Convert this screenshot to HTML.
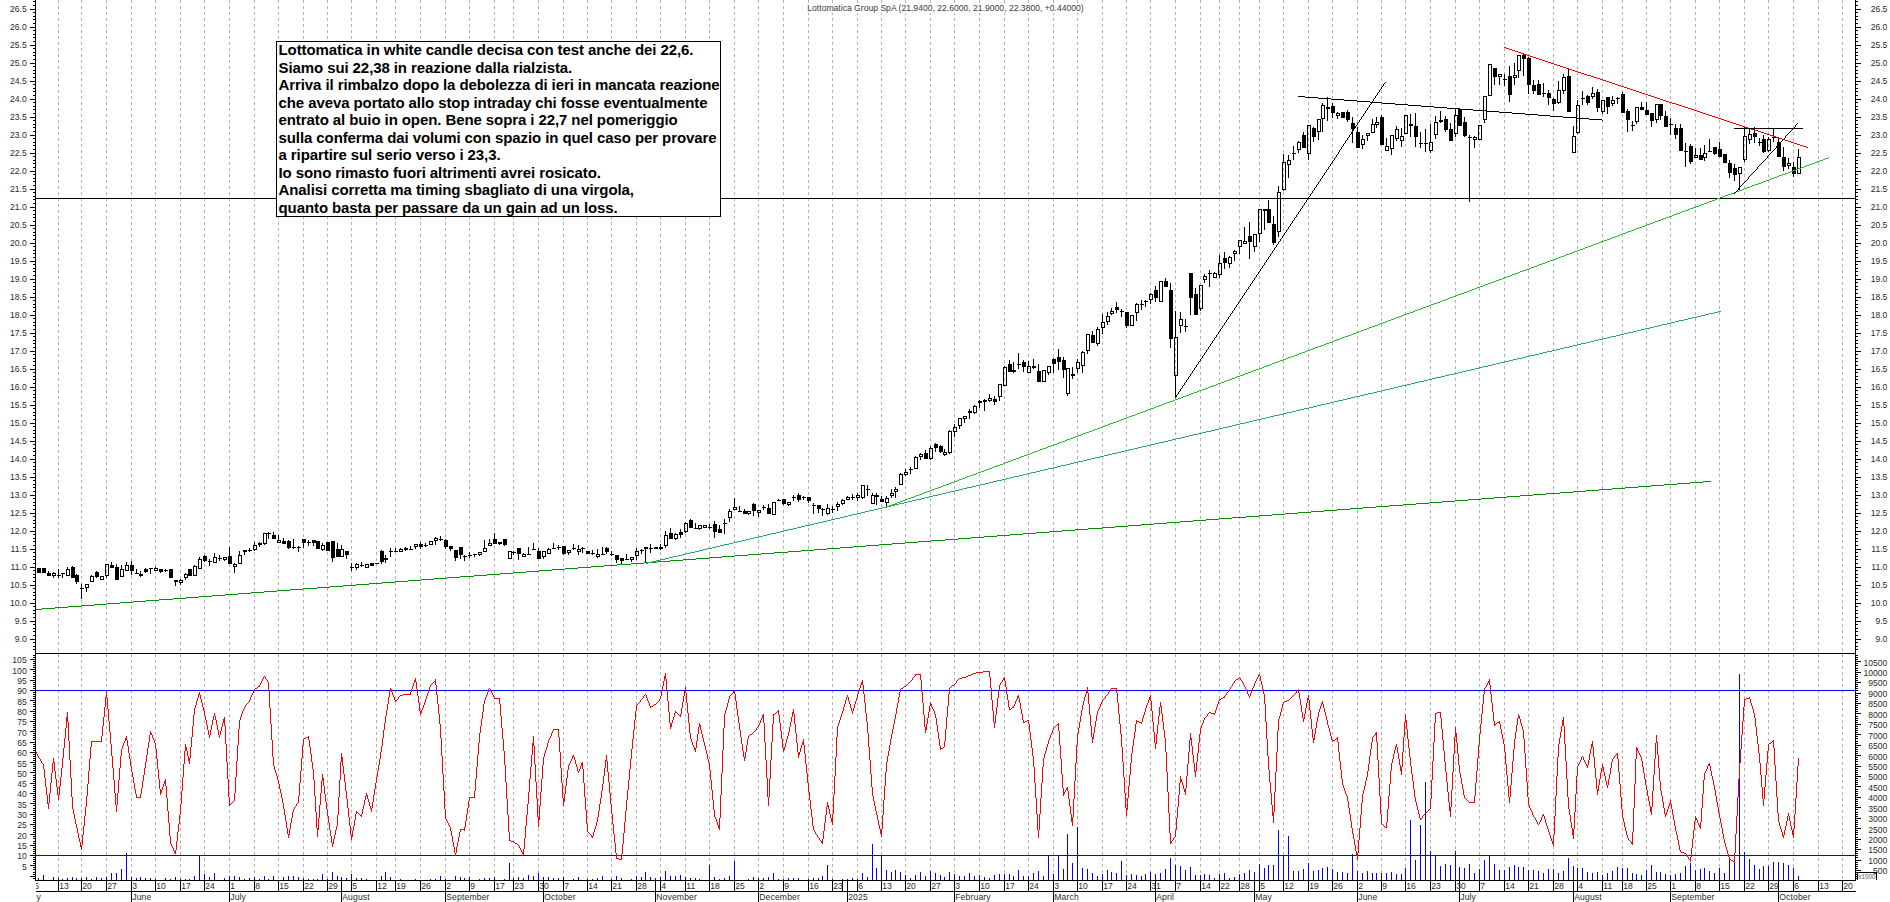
<!DOCTYPE html>
<html><head><meta charset="utf-8"><title>Lottomatica Group SpA</title>
<style>
html,body{margin:0;padding:0;background:#fff;}
body{width:1890px;height:902px;position:relative;overflow:hidden;font-family:"Liberation Sans",sans-serif;}
#note{position:absolute;left:276px;top:41px;width:443px;height:174px;border:1px solid #000;background:#fff;box-sizing:content-box;
font-family:"Liberation Sans",sans-serif;font-weight:bold;font-size:15px;letter-spacing:-0.09px;line-height:17.55px;color:#000;white-space:nowrap;overflow:hidden;}
#note div{padding-left:1.5px;height:17.55px;position:relative;top:-1px;}
</style></head><body>
<svg width="1890" height="902" viewBox="0 0 1890 902" style="position:absolute;left:0;top:0">
<rect width="1890" height="902" fill="#fff"/>
<path d="M58.5 0V880M81.5 0V880M106.5 0V880M131.5 0V880M155.5 0V880M180.5 0V880M204.5 0V880M229.5 0V880M254.5 0V880M278.5 0V880M303.5 0V880M327.5 0V880M351.5 0V880M376.5 0V880M395.5 0V880M420.5 0V880M445.5 0V880M469.5 0V880M494.5 0V880M513.5 0V880M538.5 0V880M563.5 0V880M587.5 0V880M611.5 0V880M636.5 0V880M660.5 0V880M685.5 0V880M709.5 0V880M734.5 0V880M758.5 0V880M783.5 0V880M808.5 0V880M832.5 0V880M857.5 0V880M881.5 0V880M905.5 0V880M930.5 0V880M954.5 0V880M979.5 0V880M1004.5 0V880M1028.5 0V880M1053.5 0V880M1077.5 0V880M1102.5 0V880M1126.5 0V880M1150.5 0V880M1175.5 0V880M1200.5 0V880M1219.5 0V880M1239.5 0V880M1259.5 0V880M1283.5 0V880M1308.5 0V880M1332.5 0V880M1357.5 0V880M1381.5 0V880M1405.5 0V880M1430.5 0V880M1455.5 0V880M1479.5 0V880M1504.5 0V880M1528.5 0V880M1553.5 0V880M1577.5 0V880M1602.5 0V880M1622.5 0V880M1646.5 0V880M1670.5 0V880M1695.5 0V880M1719.5 0V880M1744.5 0V880M1768.5 0V880M1793.5 0V880M1818.5 0V880M1842.5 0V880" stroke="#b2b2b2" stroke-width="1" stroke-dasharray="3 3" stroke-dashoffset="0" fill="none" shape-rendering="crispEdges"/>
<g shape-rendering="crispEdges"><path d="M38.5 568V573M43.5 568V573M48.5 571V576M53.5 572V573M53.5 576V578M58.5 569V578M62.5 573V578M67.5 567V569M72.5 566V578M76.5 574V584M81.5 584V599M86.5 588V592M91.5 575V576M96.5 571V578M106.5 576V578M111.5 562V568M116.5 564V580M121.5 565V569M126.5 562V565M131.5 561V575M136.5 569V574M140.5 571V577M145.5 568V573M150.5 568V574M155.5 567V568M160.5 569V573M165.5 569V572M170.5 569V578M175.5 580V586M180.5 579V580M180.5 583V585M185.5 573V574M185.5 578V580M189.5 569V576M194.5 565V566M199.5 557V559M204.5 555V562M209.5 559V566M214.5 553V557M219.5 555V561M224.5 560V561M229.5 547V564M234.5 563V564M234.5 567V573M239.5 551V555M244.5 550V555M249.5 548V552M254.5 542V545M254.5 550V551M259.5 542V547M264.5 544V545M268.5 532V539M273.5 532V539M278.5 535V540M283.5 538V544M288.5 540V549M293.5 539V549M298.5 546V552M303.5 539V548M308.5 540V546M313.5 540V546M317.5 541V549M322.5 543V545M322.5 550V551M327.5 542V551M332.5 541V562M337.5 543V557M341.5 545V549M346.5 551V559M351.5 563V571M356.5 563V564M356.5 568V570M361.5 562V567M371.5 563V566M376.5 563V564M381.5 550V564M385.5 555V563M390.5 548V557M395.5 548V552M400.5 548V549M405.5 547V551M410.5 546V550M415.5 547V549M420.5 542V549M425.5 543V547M435.5 537V538M435.5 541V545M440.5 536V541M445.5 539V549M450.5 546V551M455.5 550V561M460.5 547V559M464.5 555V561M469.5 552V558M474.5 554V557M479.5 555V556M484.5 540V548M489.5 539V543M494.5 533V544M499.5 542V545M504.5 539V546M513.5 551V555M518.5 548V560M523.5 553V554M528.5 547V554M533.5 543V550M538.5 548V559M543.5 557V559M548.5 548V549M553.5 543V549M558.5 545V550M563.5 546V555M568.5 553V555M573.5 544V550M578.5 545V549M578.5 552V555M582.5 547V553M587.5 551V554M592.5 550V555M597.5 549V554M597.5 557V558M602.5 547V555M606.5 547V554M611.5 551V556M616.5 555V563M621.5 558V564M626.5 554V560M631.5 560V562M636.5 548V551M636.5 556V560M641.5 549V554M645.5 547V563M650.5 544V553M655.5 547V549M660.5 544V550M665.5 531V535M665.5 546V548M670.5 528V539M675.5 533V534M675.5 539V540M680.5 529V538M685.5 522V523M685.5 532V533M690.5 519V528M695.5 523V529M699.5 529V530M709.5 524V529M714.5 521V538M719.5 525V533M724.5 519V534M729.5 509V511M729.5 518V522M734.5 498V507M739.5 506V512M744.5 509V514M748.5 514V515M753.5 503V516M758.5 513V517M763.5 505V510M768.5 504V514M778.5 499V501M783.5 499V505M788.5 505V506M793.5 495V501M798.5 493V502M803.5 496V500M808.5 497V503M813.5 503V514M818.5 505V513M822.5 508V516M827.5 504V508M827.5 514V515M832.5 506V513M837.5 502V504M837.5 507V511M842.5 499V500M842.5 504V505M847.5 496V497M852.5 494V500M857.5 493V495M857.5 498V501M862.5 498V499M867.5 485V496M872.5 493V495M876.5 493V505M881.5 496V502M886.5 496V498M886.5 503V506M891.5 489V493M891.5 496V498M895.5 487V489M895.5 492V498M900.5 473V474M905.5 469V472M905.5 475V476M910.5 467V474M915.5 456V457M920.5 453V454M920.5 457V460M925.5 450V459M930.5 446V448M930.5 459V460M935.5 443V452M940.5 445V453M944.5 449V452M944.5 455V456M949.5 430V431M949.5 453V454M954.5 424V427M954.5 432V437M959.5 426V429M964.5 419V423M969.5 409V419M974.5 405V406M974.5 413V414M979.5 400V408M984.5 399V411M989.5 394V398M989.5 401V402M994.5 396V405M999.5 397V401M1004.5 366V367M1009.5 360V372M1013.5 362V373M1018.5 353V369M1023.5 360V372M1028.5 361V366M1033.5 359V369M1038.5 364V382M1048.5 373V375M1053.5 358V373M1058.5 349V370M1063.5 357V378M1067.5 394V396M1072.5 367V379M1077.5 359V362M1077.5 369V373M1082.5 351V352M1082.5 366V373M1087.5 351V354M1092.5 331V343M1097.5 327V329M1097.5 344V346M1102.5 314V322M1102.5 328V334M1107.5 312V316M1107.5 322V325M1111.5 308V311M1111.5 314V315M1116.5 302V313M1121.5 309V317M1126.5 312V328M1136.5 303V304M1136.5 313V321M1141.5 300V310M1145.5 300V307M1150.5 293V294M1150.5 300V304M1155.5 286V302M1165.5 278V287M1170.5 283V348M1175.5 311V337M1175.5 376V398M1180.5 312V319M1180.5 326V333M1185.5 319V332M1190.5 273V315M1195.5 288V315M1200.5 309V311M1204.5 274V276M1204.5 280V283M1209.5 270V287M1214.5 272V273M1219.5 255V263M1219.5 275V278M1224.5 252V269M1229.5 256V257M1229.5 264V268M1234.5 250V251M1234.5 254V261M1239.5 247V254M1244.5 227V241M1249.5 222V259M1254.5 247V252M1259.5 234V242M1264.5 209V230M1268.5 200V223M1273.5 216V245M1278.5 186V192M1278.5 232V237M1283.5 154V162M1283.5 190V191M1288.5 155V160M1288.5 165V178M1293.5 146V160M1298.5 141V142M1298.5 150V153M1303.5 132V148M1308.5 154V160M1313.5 127V142M1318.5 132V140M1322.5 103V105M1322.5 119V132M1327.5 97V121M1332.5 103V118M1337.5 112V113M1337.5 116V119M1342.5 112V118M1347.5 110V122M1352.5 117V143M1357.5 127V148M1362.5 135V139M1362.5 145V149M1367.5 136V141M1372.5 119V124M1376.5 117V122M1376.5 125V128M1381.5 115V145M1386.5 138V146M1391.5 149V155M1396.5 126V129M1396.5 139V141M1401.5 128V136M1401.5 141V147M1410.5 114V137M1415.5 113V147M1420.5 132V148M1425.5 129V152M1430.5 124V142M1430.5 151V153M1435.5 116V122M1435.5 135V139M1440.5 111V123M1445.5 116V132M1450.5 123V141M1455.5 109V115M1455.5 134V137M1459.5 109V126M1464.5 117V137M1469.5 135V202M1474.5 136V137M1474.5 140V148M1484.5 120V123M1494.5 68V85M1499.5 77V85M1504.5 74V86M1509.5 66V102M1514.5 63V75M1514.5 78V85M1518.5 71V78M1523.5 54V76M1528.5 57V94M1533.5 80V94M1538.5 80V95M1543.5 83V97M1548.5 90V105M1553.5 98V111M1558.5 81V90M1558.5 103V104M1563.5 74V77M1563.5 91V94M1568.5 69V112M1573.5 126V136M1577.5 100V105M1577.5 133V134M1582.5 91V105M1587.5 95V105M1592.5 87V93M1592.5 97V99M1597.5 89V112M1602.5 112V114M1607.5 97V114M1612.5 96V100M1612.5 104V106M1617.5 97V104M1622.5 92V113M1627.5 109V132M1632.5 121V131M1636.5 122V124M1641.5 102V110M1646.5 102V115M1651.5 113V127M1656.5 120V123M1660.5 104V120M1665.5 111V127M1670.5 118V135M1675.5 124V139M1680.5 124V151M1685.5 143V167M1690.5 144V164M1695.5 148V155M1700.5 148V160M1704.5 145V153M1704.5 158V161M1709.5 139V152M1714.5 147V155M1719.5 142V157M1724.5 154V163M1729.5 160V178M1734.5 164V181M1739.5 174V190M1744.5 127V136M1744.5 160V162M1749.5 129V134M1749.5 140V144M1754.5 127V143M1759.5 138V146M1763.5 135V153M1768.5 137V139M1768.5 151V152M1773.5 129V142M1778.5 137V157M1783.5 147V171M1788.5 158V163M1788.5 166V169M1793.5 162V177M1798.5 149V157" stroke="#000" stroke-width="1" fill="none"/><path d="M37 568h4v5h-4zM42 568h4v5h-4zM47 573h4v3h-4zM57 575h4v1h-4zM61 573h4v1h-4zM71 567h4v11h-4zM75 575h4v7h-4zM80 588h4v1h-4zM95 572h4v5h-4zM110 565h4v3h-4zM115 567h4v13h-4zM130 565h4v6h-4zM135 573h4v1h-4zM139 574h4v2h-4zM144 569h4v3h-4zM149 568h4v1h-4zM159 569h4v3h-4zM164 570h4v1h-4zM169 569h4v9h-4zM174 580h4v2h-4zM188 569h4v7h-4zM203 556h4v5h-4zM208 561h4v1h-4zM218 558h4v1h-4zM228 556h4v8h-4zM243 550h4v2h-4zM248 550h4v1h-4zM258 543h4v2h-4zM267 533h4v1h-4zM272 535h4v4h-4zM282 541h4v3h-4zM287 541h4v7h-4zM292 547h4v1h-4zM297 547h4v1h-4zM302 539h4v4h-4zM307 542h4v1h-4zM312 540h4v3h-4zM316 541h4v8h-4zM326 542h4v9h-4zM331 541h4v17h-4zM336 549h4v8h-4zM345 551h4v4h-4zM350 567h4v1h-4zM360 565h4v1h-4zM370 563h4v3h-4zM375 563h4v1h-4zM380 551h4v11h-4zM384 558h4v2h-4zM389 551h4v1h-4zM394 551h4v1h-4zM404 548h4v2h-4zM409 549h4v1h-4zM419 544h4v3h-4zM424 545h4v1h-4zM439 539h4v1h-4zM444 540h4v7h-4zM449 546h4v3h-4zM454 550h4v8h-4zM459 547h4v8h-4zM463 556h4v1h-4zM468 555h4v1h-4zM473 554h4v1h-4zM493 539h4v5h-4zM498 542h4v2h-4zM503 539h4v6h-4zM512 552h4v1h-4zM517 548h4v6h-4zM527 554h4v1h-4zM532 549h4v1h-4zM537 551h4v8h-4zM552 548h4v1h-4zM557 547h4v1h-4zM562 546h4v8h-4zM572 548h4v1h-4zM581 548h4v1h-4zM586 551h4v3h-4zM591 553h4v1h-4zM601 554h4v1h-4zM605 548h4v4h-4zM610 554h4v1h-4zM615 555h4v5h-4zM620 558h4v3h-4zM625 559h4v1h-4zM640 550h4v1h-4zM644 547h4v2h-4zM649 548h4v1h-4zM654 547h4v2h-4zM659 547h4v2h-4zM669 533h4v6h-4zM679 532h4v3h-4zM689 520h4v8h-4zM694 528h4v1h-4zM708 527h4v1h-4zM713 524h4v8h-4zM718 529h4v4h-4zM723 523h4v1h-4zM738 511h4v1h-4zM743 511h4v3h-4zM752 504h4v7h-4zM762 507h4v1h-4zM767 508h4v6h-4zM777 500h4v1h-4zM782 499h4v5h-4zM792 497h4v1h-4zM797 495h4v5h-4zM802 497h4v1h-4zM807 497h4v4h-4zM812 505h4v1h-4zM817 505h4v4h-4zM821 509h4v1h-4zM831 509h4v1h-4zM851 497h4v1h-4zM866 489h4v1h-4zM875 495h4v2h-4zM880 499h4v3h-4zM909 469h4v1h-4zM924 453h4v6h-4zM934 444h4v4h-4zM939 446h4v6h-4zM968 411h4v2h-4zM978 401h4v2h-4zM983 400h4v2h-4zM993 399h4v3h-4zM1008 364h4v8h-4zM1012 370h4v2h-4zM1017 364h4v1h-4zM1022 362h4v5h-4zM1032 366h4v2h-4zM1037 371h4v11h-4zM1052 359h4v5h-4zM1057 357h4v5h-4zM1062 360h4v10h-4zM1071 374h4v2h-4zM1091 335h4v8h-4zM1115 307h4v3h-4zM1120 311h4v1h-4zM1125 312h4v14h-4zM1140 304h4v1h-4zM1144 301h4v1h-4zM1154 290h4v8h-4zM1164 281h4v6h-4zM1169 290h4v49h-4zM1184 326h4v1h-4zM1189 273h4v25h-4zM1194 294h4v21h-4zM1208 273h4v1h-4zM1223 258h4v5h-4zM1248 236h4v6h-4zM1263 209h4v2h-4zM1267 209h4v14h-4zM1272 224h4v19h-4zM1292 153h4v1h-4zM1302 135h4v13h-4zM1312 128h4v9h-4zM1326 107h4v2h-4zM1331 106h4v7h-4zM1341 112h4v6h-4zM1346 112h4v8h-4zM1351 123h4v6h-4zM1356 132h4v16h-4zM1380 117h4v28h-4zM1409 124h4v2h-4zM1414 126h4v11h-4zM1419 143h4v1h-4zM1424 143h4v1h-4zM1439 120h4v2h-4zM1444 119h4v11h-4zM1449 129h4v12h-4zM1458 109h4v17h-4zM1463 122h4v14h-4zM1468 137h4v1h-4zM1493 68h4v9h-4zM1503 79h4v1h-4zM1508 76h4v19h-4zM1522 55h4v4h-4zM1527 58h4v27h-4zM1532 85h4v6h-4zM1537 84h4v11h-4zM1542 93h4v1h-4zM1547 93h4v5h-4zM1552 99h4v5h-4zM1567 76h4v36h-4zM1581 98h4v1h-4zM1586 96h4v7h-4zM1596 92h4v16h-4zM1606 97h4v10h-4zM1616 98h4v1h-4zM1621 94h4v19h-4zM1626 111h4v9h-4zM1631 125h4v1h-4zM1640 107h4v3h-4zM1645 110h4v5h-4zM1650 113h4v8h-4zM1659 104h4v12h-4zM1664 116h4v11h-4zM1669 124h4v1h-4zM1674 128h4v7h-4zM1679 128h4v23h-4zM1684 151h4v1h-4zM1689 146h4v16h-4zM1699 155h4v5h-4zM1708 151h4v1h-4zM1713 147h4v7h-4zM1718 149h4v8h-4zM1723 154h4v9h-4zM1728 163h4v10h-4zM1733 168h4v7h-4zM1753 133h4v4h-4zM1758 142h4v1h-4zM1762 139h4v13h-4zM1772 137h4v1h-4zM1777 142h4v15h-4zM1782 157h4v10h-4zM1792 167h4v7h-4z" fill="#000" stroke="none"/><path d="M52.5 573.5h3v2h-3zM66.5 569.5h3v6h-3zM85.5 584.5h3v3h-3zM90.5 576.5h3v5h-3zM100.5 576.5h3v3h-3zM105.5 564.5h3v11h-3zM120.5 569.5h3v7h-3zM125.5 565.5h3v5h-3zM154.5 568.5h3v2h-3zM179.5 580.5h3v2h-3zM184.5 574.5h3v3h-3zM193.5 566.5h3v9h-3zM198.5 559.5h3v9h-3zM213.5 557.5h3v5h-3zM223.5 557.5h3v2h-3zM233.5 564.5h3v2h-3zM238.5 555.5h3v8h-3zM253.5 545.5h3v4h-3zM263.5 533.5h3v10h-3zM277.5 540.5h3v2h-3zM321.5 545.5h3v4h-3zM340.5 549.5h3v7h-3zM355.5 564.5h3v3h-3zM365.5 564.5h3v3h-3zM399.5 549.5h3v2h-3zM414.5 544.5h3v2h-3zM429.5 541.5h3v3h-3zM434.5 538.5h3v2h-3zM478.5 552.5h3v2h-3zM483.5 548.5h3v3h-3zM488.5 543.5h3v2h-3zM508.5 551.5h3v7h-3zM522.5 554.5h3v2h-3zM542.5 551.5h3v5h-3zM547.5 549.5h3v4h-3zM567.5 550.5h3v2h-3zM577.5 549.5h3v2h-3zM596.5 554.5h3v2h-3zM630.5 557.5h3v2h-3zM635.5 551.5h3v4h-3zM664.5 535.5h3v10h-3zM674.5 534.5h3v4h-3zM684.5 523.5h3v8h-3zM698.5 525.5h3v3h-3zM703.5 525.5h3v2h-3zM728.5 511.5h3v6h-3zM733.5 507.5h3v2h-3zM747.5 511.5h3v2h-3zM757.5 510.5h3v2h-3zM772.5 502.5h3v12h-3zM787.5 502.5h3v2h-3zM826.5 508.5h3v5h-3zM836.5 504.5h3v2h-3zM841.5 500.5h3v3h-3zM846.5 497.5h3v2h-3zM856.5 495.5h3v2h-3zM861.5 485.5h3v12h-3zM871.5 495.5h3v8h-3zM885.5 498.5h3v4h-3zM890.5 493.5h3v2h-3zM894.5 489.5h3v2h-3zM899.5 474.5h3v10h-3zM904.5 472.5h3v2h-3zM914.5 457.5h3v11h-3zM919.5 454.5h3v2h-3zM929.5 448.5h3v10h-3zM943.5 452.5h3v2h-3zM948.5 431.5h3v21h-3zM953.5 427.5h3v4h-3zM958.5 418.5h3v7h-3zM963.5 416.5h3v2h-3zM973.5 406.5h3v6h-3zM988.5 398.5h3v2h-3zM998.5 384.5h3v12h-3zM1003.5 367.5h3v18h-3zM1027.5 366.5h3v6h-3zM1042.5 370.5h3v11h-3zM1047.5 366.5h3v6h-3zM1066.5 368.5h3v25h-3zM1076.5 362.5h3v6h-3zM1081.5 352.5h3v13h-3zM1086.5 334.5h3v16h-3zM1096.5 329.5h3v14h-3zM1101.5 322.5h3v5h-3zM1106.5 316.5h3v5h-3zM1110.5 311.5h3v2h-3zM1130.5 315.5h3v10h-3zM1135.5 304.5h3v8h-3zM1149.5 294.5h3v5h-3zM1159.5 281.5h3v20h-3zM1174.5 337.5h3v38h-3zM1179.5 319.5h3v6h-3zM1199.5 285.5h3v23h-3zM1203.5 276.5h3v3h-3zM1213.5 273.5h3v4h-3zM1218.5 263.5h3v11h-3zM1228.5 257.5h3v6h-3zM1233.5 251.5h3v2h-3zM1238.5 240.5h3v6h-3zM1243.5 241.5h3v2h-3zM1253.5 234.5h3v12h-3zM1258.5 209.5h3v24h-3zM1277.5 192.5h3v39h-3zM1282.5 162.5h3v27h-3zM1287.5 160.5h3v4h-3zM1297.5 142.5h3v7h-3zM1307.5 125.5h3v28h-3zM1317.5 119.5h3v12h-3zM1321.5 105.5h3v13h-3zM1336.5 113.5h3v2h-3zM1361.5 139.5h3v5h-3zM1366.5 133.5h3v2h-3zM1371.5 124.5h3v8h-3zM1375.5 122.5h3v2h-3zM1385.5 146.5h3v4h-3zM1390.5 135.5h3v13h-3zM1395.5 129.5h3v9h-3zM1400.5 136.5h3v4h-3zM1404.5 115.5h3v18h-3zM1429.5 142.5h3v8h-3zM1434.5 122.5h3v12h-3zM1454.5 115.5h3v18h-3zM1473.5 137.5h3v2h-3zM1478.5 125.5h3v14h-3zM1483.5 96.5h3v23h-3zM1488.5 64.5h3v31h-3zM1498.5 74.5h3v2h-3zM1513.5 75.5h3v2h-3zM1517.5 55.5h3v15h-3zM1557.5 90.5h3v12h-3zM1562.5 77.5h3v13h-3zM1572.5 136.5h3v16h-3zM1576.5 105.5h3v27h-3zM1591.5 93.5h3v3h-3zM1601.5 100.5h3v11h-3zM1611.5 100.5h3v3h-3zM1635.5 107.5h3v14h-3zM1655.5 104.5h3v15h-3zM1694.5 155.5h3v2h-3zM1703.5 153.5h3v4h-3zM1738.5 167.5h3v6h-3zM1743.5 136.5h3v23h-3zM1748.5 134.5h3v5h-3zM1767.5 139.5h3v11h-3zM1787.5 163.5h3v2h-3zM1797.5 157.5h3v16h-3z" fill="none" stroke="#000" stroke-width="1"/></g>
<g shape-rendering="crispEdges" stroke="none"><path d="M35 198h1821v1h-1821z" fill="#000"/><path d="M36 609h6v1h-6zM42 608h13v1h-13zM55 607h13v1h-13zM68 606h13v1h-13zM81 605h13v1h-13zM94 604h13v1h-13zM107 603h13v1h-13zM120 602h13v1h-13zM133 601h13v1h-13zM146 600h13v1h-13zM159 599h14v1h-14zM173 598h13v1h-13zM186 597h13v1h-13zM199 596h13v1h-13zM212 595h13v1h-13zM225 594h13v1h-13zM238 593h13v1h-13zM251 592h13v1h-13zM264 591h13v1h-13zM277 590h13v1h-13zM290 589h13v1h-13zM303 588h14v1h-14zM317 587h13v1h-13zM330 586h13v1h-13zM343 585h13v1h-13zM356 584h13v1h-13zM369 583h13v1h-13zM382 582h13v1h-13zM395 581h13v1h-13zM408 580h13v1h-13zM421 579h13v1h-13zM434 578h13v1h-13zM447 577h13v1h-13zM460 576h14v1h-14zM474 575h13v1h-13zM487 574h13v1h-13zM500 573h13v1h-13zM513 572h13v1h-13zM526 571h13v1h-13zM539 570h13v1h-13zM552 569h13v1h-13zM565 568h13v1h-13zM578 567h13v1h-13zM591 566h13v1h-13zM604 565h13v1h-13zM617 564h14v1h-14zM631 563h13v1h-13zM644 562h13v1h-13zM657 561h13v1h-13zM670 560h13v1h-13zM683 559h13v1h-13zM696 558h13v1h-13zM709 557h13v1h-13zM722 556h13v1h-13zM735 555h13v1h-13zM748 554h13v1h-13zM761 553h13v1h-13zM774 552h14v1h-14zM788 551h13v1h-13zM801 550h13v1h-13zM814 549h13v1h-13zM827 548h13v1h-13zM840 547h13v1h-13zM853 546h13v1h-13zM866 545h13v1h-13zM879 544h13v1h-13zM892 543h13v1h-13zM905 542h13v1h-13zM918 541h13v1h-13zM931 540h14v1h-14zM945 539h13v1h-13zM958 538h13v1h-13zM971 537h13v1h-13zM984 536h13v1h-13zM997 535h13v1h-13zM1010 534h13v1h-13zM1023 533h13v1h-13zM1036 532h13v1h-13zM1049 531h13v1h-13zM1062 530h13v1h-13zM1075 529h13v1h-13zM1088 528h14v1h-14zM1102 527h13v1h-13zM1115 526h13v1h-13zM1128 525h13v1h-13zM1141 524h13v1h-13zM1154 523h13v1h-13zM1167 522h13v1h-13zM1180 521h13v1h-13zM1193 520h13v1h-13zM1206 519h13v1h-13zM1219 518h13v1h-13zM1232 517h14v1h-14zM1246 516h13v1h-13zM1259 515h13v1h-13zM1272 514h13v1h-13zM1285 513h13v1h-13zM1298 512h13v1h-13zM1311 511h13v1h-13zM1324 510h13v1h-13zM1337 509h13v1h-13zM1350 508h13v1h-13zM1363 507h13v1h-13zM1376 506h13v1h-13zM1389 505h14v1h-14zM1403 504h13v1h-13zM1416 503h13v1h-13zM1429 502h13v1h-13zM1442 501h13v1h-13zM1455 500h13v1h-13zM1468 499h13v1h-13zM1481 498h13v1h-13zM1494 497h13v1h-13zM1507 496h13v1h-13zM1520 495h13v1h-13zM1533 494h13v1h-13zM1546 493h14v1h-14zM1560 492h13v1h-13zM1573 491h13v1h-13zM1586 490h13v1h-13zM1599 489h13v1h-13zM1612 488h13v1h-13zM1625 487h13v1h-13zM1638 486h13v1h-13zM1651 485h13v1h-13zM1664 484h13v1h-13zM1677 483h13v1h-13zM1690 482h13v1h-13zM1703 481h8v1h-8z" fill="#009000"/><path d="M646 563h2v1h-2zM648 562h4v1h-4zM652 561h4v1h-4zM656 560h4v1h-4zM660 559h5v1h-5zM665 558h4v1h-4zM669 557h4v1h-4zM673 556h5v1h-5zM678 555h4v1h-4zM682 554h4v1h-4zM686 553h4v1h-4zM690 552h5v1h-5zM695 551h4v1h-4zM699 550h4v1h-4zM703 549h4v1h-4zM707 548h5v1h-5zM712 547h4v1h-4zM716 546h4v1h-4zM720 545h4v1h-4zM724 544h5v1h-5zM729 543h4v1h-4zM733 542h4v1h-4zM737 541h5v1h-5zM742 540h4v1h-4zM746 539h4v1h-4zM750 538h4v1h-4zM754 537h5v1h-5zM759 536h4v1h-4zM763 535h4v1h-4zM767 534h4v1h-4zM771 533h5v1h-5zM776 532h4v1h-4zM780 531h4v1h-4zM784 530h4v1h-4zM788 529h5v1h-5zM793 528h4v1h-4zM797 527h4v1h-4zM801 526h4v1h-4zM805 525h5v1h-5zM810 524h4v1h-4zM814 523h4v1h-4zM818 522h5v1h-5zM823 521h4v1h-4zM827 520h4v1h-4zM831 519h4v1h-4zM835 518h5v1h-5zM840 517h4v1h-4zM844 516h4v1h-4zM848 515h4v1h-4zM852 514h5v1h-5zM857 513h4v1h-4zM861 512h4v1h-4zM865 511h4v1h-4zM869 510h5v1h-5zM874 509h4v1h-4zM878 508h4v1h-4zM882 507h4v1h-4zM886 506h5v1h-5zM891 505h4v1h-4zM895 504h4v1h-4zM899 503h5v1h-5zM904 502h4v1h-4zM908 501h4v1h-4zM912 500h4v1h-4zM916 499h5v1h-5zM921 498h4v1h-4zM925 497h4v1h-4zM929 496h4v1h-4zM933 495h5v1h-5zM938 494h4v1h-4zM942 493h4v1h-4zM946 492h4v1h-4zM950 491h5v1h-5zM955 490h4v1h-4zM959 489h4v1h-4zM963 488h4v1h-4zM967 487h5v1h-5zM972 486h4v1h-4zM976 485h4v1h-4zM980 484h5v1h-5zM985 483h4v1h-4zM989 482h4v1h-4zM993 481h4v1h-4zM997 480h5v1h-5zM1002 479h4v1h-4zM1006 478h4v1h-4zM1010 477h4v1h-4zM1014 476h5v1h-5zM1019 475h4v1h-4zM1023 474h4v1h-4zM1027 473h4v1h-4zM1031 472h5v1h-5zM1036 471h4v1h-4zM1040 470h4v1h-4zM1044 469h4v1h-4zM1048 468h5v1h-5zM1053 467h4v1h-4zM1057 466h4v1h-4zM1061 465h5v1h-5zM1066 464h4v1h-4zM1070 463h4v1h-4zM1074 462h4v1h-4zM1078 461h5v1h-5zM1083 460h4v1h-4zM1087 459h4v1h-4zM1091 458h4v1h-4zM1095 457h5v1h-5zM1100 456h4v1h-4zM1104 455h4v1h-4zM1108 454h4v1h-4zM1112 453h5v1h-5zM1117 452h4v1h-4zM1121 451h4v1h-4zM1125 450h4v1h-4zM1129 449h5v1h-5zM1134 448h4v1h-4zM1138 447h4v1h-4zM1142 446h5v1h-5zM1147 445h4v1h-4zM1151 444h4v1h-4zM1155 443h4v1h-4zM1159 442h5v1h-5zM1164 441h4v1h-4zM1168 440h4v1h-4zM1172 439h4v1h-4zM1176 438h5v1h-5zM1181 437h4v1h-4zM1185 436h4v1h-4zM1189 435h4v1h-4zM1193 434h5v1h-5zM1198 433h4v1h-4zM1202 432h4v1h-4zM1206 431h5v1h-5zM1211 430h4v1h-4zM1215 429h4v1h-4zM1219 428h4v1h-4zM1223 427h5v1h-5zM1228 426h4v1h-4zM1232 425h4v1h-4zM1236 424h4v1h-4zM1240 423h5v1h-5zM1245 422h4v1h-4zM1249 421h4v1h-4zM1253 420h4v1h-4zM1257 419h5v1h-5zM1262 418h4v1h-4zM1266 417h4v1h-4zM1270 416h4v1h-4zM1274 415h5v1h-5zM1279 414h4v1h-4zM1283 413h4v1h-4zM1287 412h5v1h-5zM1292 411h4v1h-4zM1296 410h4v1h-4zM1300 409h4v1h-4zM1304 408h5v1h-5zM1309 407h4v1h-4zM1313 406h4v1h-4zM1317 405h4v1h-4zM1321 404h5v1h-5zM1326 403h4v1h-4zM1330 402h4v1h-4zM1334 401h4v1h-4zM1338 400h5v1h-5zM1343 399h4v1h-4zM1347 398h4v1h-4zM1351 397h4v1h-4zM1355 396h5v1h-5zM1360 395h4v1h-4zM1364 394h4v1h-4zM1368 393h5v1h-5zM1373 392h4v1h-4zM1377 391h4v1h-4zM1381 390h4v1h-4zM1385 389h5v1h-5zM1390 388h4v1h-4zM1394 387h4v1h-4zM1398 386h4v1h-4zM1402 385h5v1h-5zM1407 384h4v1h-4zM1411 383h4v1h-4zM1415 382h4v1h-4zM1419 381h5v1h-5zM1424 380h4v1h-4zM1428 379h4v1h-4zM1432 378h4v1h-4zM1436 377h5v1h-5zM1441 376h4v1h-4zM1445 375h4v1h-4zM1449 374h5v1h-5zM1454 373h4v1h-4zM1458 372h4v1h-4zM1462 371h4v1h-4zM1466 370h5v1h-5zM1471 369h4v1h-4zM1475 368h4v1h-4zM1479 367h4v1h-4zM1483 366h5v1h-5zM1488 365h4v1h-4zM1492 364h4v1h-4zM1496 363h4v1h-4zM1500 362h5v1h-5zM1505 361h4v1h-4zM1509 360h4v1h-4zM1513 359h4v1h-4zM1517 358h5v1h-5zM1522 357h4v1h-4zM1526 356h4v1h-4zM1530 355h5v1h-5zM1535 354h4v1h-4zM1539 353h4v1h-4zM1543 352h4v1h-4zM1547 351h5v1h-5zM1552 350h4v1h-4zM1556 349h4v1h-4zM1560 348h4v1h-4zM1564 347h5v1h-5zM1569 346h4v1h-4zM1573 345h4v1h-4zM1577 344h4v1h-4zM1581 343h5v1h-5zM1586 342h4v1h-4zM1590 341h4v1h-4zM1594 340h4v1h-4zM1598 339h5v1h-5zM1603 338h4v1h-4zM1607 337h4v1h-4zM1611 336h5v1h-5zM1616 335h4v1h-4zM1620 334h4v1h-4zM1624 333h4v1h-4zM1628 332h5v1h-5zM1633 331h4v1h-4zM1637 330h4v1h-4zM1641 329h4v1h-4zM1645 328h5v1h-5zM1650 327h4v1h-4zM1654 326h4v1h-4zM1658 325h4v1h-4zM1662 324h5v1h-5zM1667 323h4v1h-4zM1671 322h4v1h-4zM1675 321h4v1h-4zM1679 320h5v1h-5zM1684 319h4v1h-4zM1688 318h4v1h-4zM1692 317h5v1h-5zM1697 316h4v1h-4zM1701 315h4v1h-4zM1705 314h4v1h-4zM1709 313h5v1h-5zM1714 312h4v1h-4zM1718 311h3v1h-3z" fill="#2aa86a"/><path d="M886 507h1v1h-1zM887 506h2v1h-2zM889 505h3v1h-3zM892 504h3v1h-3zM895 503h2v1h-2zM897 502h3v1h-3zM900 501h3v1h-3zM903 500h2v1h-2zM905 499h3v1h-3zM908 498h3v1h-3zM911 497h3v1h-3zM914 496h2v1h-2zM916 495h3v1h-3zM919 494h3v1h-3zM922 493h2v1h-2zM924 492h3v1h-3zM927 491h3v1h-3zM930 490h2v1h-2zM932 489h3v1h-3zM935 488h3v1h-3zM938 487h3v1h-3zM941 486h2v1h-2zM943 485h3v1h-3zM946 484h3v1h-3zM949 483h2v1h-2zM951 482h3v1h-3zM954 481h3v1h-3zM957 480h2v1h-2zM959 479h3v1h-3zM962 478h3v1h-3zM965 477h2v1h-2zM967 476h3v1h-3zM970 475h3v1h-3zM973 474h3v1h-3zM976 473h2v1h-2zM978 472h3v1h-3zM981 471h3v1h-3zM984 470h2v1h-2zM986 469h3v1h-3zM989 468h3v1h-3zM992 467h2v1h-2zM994 466h3v1h-3zM997 465h3v1h-3zM1000 464h3v1h-3zM1003 463h2v1h-2zM1005 462h3v1h-3zM1008 461h3v1h-3zM1011 460h2v1h-2zM1013 459h3v1h-3zM1016 458h3v1h-3zM1019 457h2v1h-2zM1021 456h3v1h-3zM1024 455h3v1h-3zM1027 454h3v1h-3zM1030 453h2v1h-2zM1032 452h3v1h-3zM1035 451h3v1h-3zM1038 450h2v1h-2zM1040 449h3v1h-3zM1043 448h3v1h-3zM1046 447h2v1h-2zM1048 446h3v1h-3zM1051 445h3v1h-3zM1054 444h3v1h-3zM1057 443h2v1h-2zM1059 442h3v1h-3zM1062 441h3v1h-3zM1065 440h2v1h-2zM1067 439h3v1h-3zM1070 438h3v1h-3zM1073 437h2v1h-2zM1075 436h3v1h-3zM1078 435h3v1h-3zM1081 434h2v1h-2zM1083 433h3v1h-3zM1086 432h3v1h-3zM1089 431h3v1h-3zM1092 430h2v1h-2zM1094 429h3v1h-3zM1097 428h3v1h-3zM1100 427h2v1h-2zM1102 426h3v1h-3zM1105 425h3v1h-3zM1108 424h2v1h-2zM1110 423h3v1h-3zM1113 422h3v1h-3zM1116 421h3v1h-3zM1119 420h2v1h-2zM1121 419h3v1h-3zM1124 418h3v1h-3zM1127 417h2v1h-2zM1129 416h3v1h-3zM1132 415h3v1h-3zM1135 414h2v1h-2zM1137 413h3v1h-3zM1140 412h3v1h-3zM1143 411h3v1h-3zM1146 410h2v1h-2zM1148 409h3v1h-3zM1151 408h3v1h-3zM1154 407h2v1h-2zM1156 406h3v1h-3zM1159 405h3v1h-3zM1162 404h2v1h-2zM1164 403h3v1h-3zM1167 402h3v1h-3zM1170 401h3v1h-3zM1173 400h2v1h-2zM1175 399h3v1h-3zM1178 398h3v1h-3zM1181 397h2v1h-2zM1183 396h3v1h-3zM1186 395h3v1h-3zM1189 394h2v1h-2zM1191 393h3v1h-3zM1194 392h3v1h-3zM1197 391h2v1h-2zM1199 390h3v1h-3zM1202 389h3v1h-3zM1205 388h3v1h-3zM1208 387h2v1h-2zM1210 386h3v1h-3zM1213 385h3v1h-3zM1216 384h2v1h-2zM1218 383h3v1h-3zM1221 382h3v1h-3zM1224 381h2v1h-2zM1226 380h3v1h-3zM1229 379h3v1h-3zM1232 378h3v1h-3zM1235 377h2v1h-2zM1237 376h3v1h-3zM1240 375h3v1h-3zM1243 374h2v1h-2zM1245 373h3v1h-3zM1248 372h3v1h-3zM1251 371h2v1h-2zM1253 370h3v1h-3zM1256 369h3v1h-3zM1259 368h3v1h-3zM1262 367h2v1h-2zM1264 366h3v1h-3zM1267 365h3v1h-3zM1270 364h2v1h-2zM1272 363h3v1h-3zM1275 362h3v1h-3zM1278 361h2v1h-2zM1280 360h3v1h-3zM1283 359h3v1h-3zM1286 358h2v1h-2zM1288 357h3v1h-3zM1291 356h3v1h-3zM1294 355h3v1h-3zM1297 354h2v1h-2zM1299 353h3v1h-3zM1302 352h3v1h-3zM1305 351h2v1h-2zM1307 350h3v1h-3zM1310 349h3v1h-3zM1313 348h2v1h-2zM1315 347h3v1h-3zM1318 346h3v1h-3zM1321 345h3v1h-3zM1324 344h2v1h-2zM1326 343h3v1h-3zM1329 342h3v1h-3zM1332 341h2v1h-2zM1334 340h3v1h-3zM1337 339h3v1h-3zM1340 338h2v1h-2zM1342 337h3v1h-3zM1345 336h3v1h-3zM1348 335h3v1h-3zM1351 334h2v1h-2zM1353 333h3v1h-3zM1356 332h3v1h-3zM1359 331h2v1h-2zM1361 330h3v1h-3zM1364 329h3v1h-3zM1367 328h2v1h-2zM1369 327h3v1h-3zM1372 326h3v1h-3zM1375 325h3v1h-3zM1378 324h2v1h-2zM1380 323h3v1h-3zM1383 322h3v1h-3zM1386 321h2v1h-2zM1388 320h3v1h-3zM1391 319h3v1h-3zM1394 318h2v1h-2zM1396 317h3v1h-3zM1399 316h3v1h-3zM1402 315h2v1h-2zM1404 314h3v1h-3zM1407 313h3v1h-3zM1410 312h3v1h-3zM1413 311h2v1h-2zM1415 310h3v1h-3zM1418 309h3v1h-3zM1421 308h2v1h-2zM1423 307h3v1h-3zM1426 306h3v1h-3zM1429 305h2v1h-2zM1431 304h3v1h-3zM1434 303h3v1h-3zM1437 302h3v1h-3zM1440 301h2v1h-2zM1442 300h3v1h-3zM1445 299h3v1h-3zM1448 298h2v1h-2zM1450 297h3v1h-3zM1453 296h3v1h-3zM1456 295h2v1h-2zM1458 294h3v1h-3zM1461 293h3v1h-3zM1464 292h3v1h-3zM1467 291h2v1h-2zM1469 290h3v1h-3zM1472 289h3v1h-3zM1475 288h2v1h-2zM1477 287h3v1h-3zM1480 286h3v1h-3zM1483 285h2v1h-2zM1485 284h3v1h-3zM1488 283h3v1h-3zM1491 282h3v1h-3zM1494 281h2v1h-2zM1496 280h3v1h-3zM1499 279h3v1h-3zM1502 278h2v1h-2zM1504 277h3v1h-3zM1507 276h3v1h-3zM1510 275h2v1h-2zM1512 274h3v1h-3zM1515 273h3v1h-3zM1518 272h2v1h-2zM1520 271h3v1h-3zM1523 270h3v1h-3zM1526 269h3v1h-3zM1529 268h2v1h-2zM1531 267h3v1h-3zM1534 266h3v1h-3zM1537 265h2v1h-2zM1539 264h3v1h-3zM1542 263h3v1h-3zM1545 262h2v1h-2zM1547 261h3v1h-3zM1550 260h3v1h-3zM1553 259h3v1h-3zM1556 258h2v1h-2zM1558 257h3v1h-3zM1561 256h3v1h-3zM1564 255h2v1h-2zM1566 254h3v1h-3zM1569 253h3v1h-3zM1572 252h2v1h-2zM1574 251h3v1h-3zM1577 250h3v1h-3zM1580 249h3v1h-3zM1583 248h2v1h-2zM1585 247h3v1h-3zM1588 246h3v1h-3zM1591 245h2v1h-2zM1593 244h3v1h-3zM1596 243h3v1h-3zM1599 242h2v1h-2zM1601 241h3v1h-3zM1604 240h3v1h-3zM1607 239h3v1h-3zM1610 238h2v1h-2zM1612 237h3v1h-3zM1615 236h3v1h-3zM1618 235h2v1h-2zM1620 234h3v1h-3zM1623 233h3v1h-3zM1626 232h2v1h-2zM1628 231h3v1h-3zM1631 230h3v1h-3zM1634 229h2v1h-2zM1636 228h3v1h-3zM1639 227h3v1h-3zM1642 226h3v1h-3zM1645 225h2v1h-2zM1647 224h3v1h-3zM1650 223h3v1h-3zM1653 222h2v1h-2zM1655 221h3v1h-3zM1658 220h3v1h-3zM1661 219h2v1h-2zM1663 218h3v1h-3zM1666 217h3v1h-3zM1669 216h3v1h-3zM1672 215h2v1h-2zM1674 214h3v1h-3zM1677 213h3v1h-3zM1680 212h2v1h-2zM1682 211h3v1h-3zM1685 210h3v1h-3zM1688 209h2v1h-2zM1690 208h3v1h-3zM1693 207h3v1h-3zM1696 206h3v1h-3zM1699 205h2v1h-2zM1701 204h3v1h-3zM1704 203h3v1h-3zM1707 202h2v1h-2zM1709 201h3v1h-3zM1712 200h3v1h-3zM1715 199h2v1h-2zM1717 198h3v1h-3zM1720 197h3v1h-3zM1723 196h2v1h-2zM1725 195h3v1h-3zM1728 194h3v1h-3zM1731 193h3v1h-3zM1734 192h2v1h-2zM1736 191h3v1h-3zM1739 190h3v1h-3zM1742 189h2v1h-2zM1744 188h3v1h-3zM1747 187h3v1h-3zM1750 186h2v1h-2zM1752 185h3v1h-3zM1755 184h3v1h-3zM1758 183h3v1h-3zM1761 182h2v1h-2zM1763 181h3v1h-3zM1766 180h3v1h-3zM1769 179h2v1h-2zM1771 178h3v1h-3zM1774 177h3v1h-3zM1777 176h2v1h-2zM1779 175h3v1h-3zM1782 174h3v1h-3zM1785 173h3v1h-3zM1788 172h2v1h-2zM1790 171h3v1h-3zM1793 170h3v1h-3zM1796 169h2v1h-2zM1798 168h3v1h-3zM1801 167h3v1h-3zM1804 166h2v1h-2zM1806 165h3v1h-3zM1809 164h3v1h-3zM1812 163h3v1h-3zM1815 162h2v1h-2zM1817 161h3v1h-3zM1820 160h3v1h-3zM1823 159h2v1h-2zM1825 158h3v1h-3zM1828 157h1v1h-1z" fill="#22c022"/><path d="M1385 82h1v1h-1zM1384 83h1v1h-1zM1383 84h1v2h-1zM1382 86h1v1h-1zM1381 87h1v2h-1zM1380 89h1v1h-1zM1379 90h1v2h-1zM1378 92h1v1h-1zM1377 93h1v2h-1zM1376 95h1v1h-1zM1375 96h1v2h-1zM1374 98h1v1h-1zM1373 99h1v2h-1zM1372 101h1v1h-1zM1371 102h1v2h-1zM1370 104h1v1h-1zM1369 105h1v2h-1zM1368 107h1v1h-1zM1367 108h1v2h-1zM1366 110h1v1h-1zM1365 111h1v2h-1zM1364 113h1v1h-1zM1363 114h1v2h-1zM1362 116h1v1h-1zM1361 117h1v2h-1zM1360 119h1v1h-1zM1359 120h1v2h-1zM1358 122h1v1h-1zM1357 123h1v2h-1zM1356 125h1v1h-1zM1355 126h1v2h-1zM1354 128h1v1h-1zM1353 129h1v2h-1zM1352 131h1v1h-1zM1351 132h1v2h-1zM1350 134h1v1h-1zM1349 135h1v2h-1zM1348 137h1v1h-1zM1347 138h1v2h-1zM1346 140h1v1h-1zM1345 141h1v2h-1zM1344 143h1v1h-1zM1343 144h1v2h-1zM1342 146h1v1h-1zM1341 147h1v2h-1zM1340 149h1v1h-1zM1339 150h1v2h-1zM1338 152h1v2h-1zM1337 154h1v1h-1zM1336 155h1v2h-1zM1335 157h1v1h-1zM1334 158h1v2h-1zM1333 160h1v1h-1zM1332 161h1v2h-1zM1331 163h1v1h-1zM1330 164h1v2h-1zM1329 166h1v1h-1zM1328 167h1v2h-1zM1327 169h1v1h-1zM1326 170h1v2h-1zM1325 172h1v1h-1zM1324 173h1v2h-1zM1323 175h1v1h-1zM1322 176h1v2h-1zM1321 178h1v1h-1zM1320 179h1v2h-1zM1319 181h1v1h-1zM1318 182h1v2h-1zM1317 184h1v1h-1zM1316 185h1v2h-1zM1315 187h1v1h-1zM1314 188h1v2h-1zM1313 190h1v1h-1zM1312 191h1v2h-1zM1311 193h1v1h-1zM1310 194h1v2h-1zM1309 196h1v1h-1zM1308 197h1v2h-1zM1307 199h1v1h-1zM1306 200h1v2h-1zM1305 202h1v1h-1zM1304 203h1v2h-1zM1303 205h1v1h-1zM1302 206h1v2h-1zM1301 208h1v1h-1zM1300 209h1v2h-1zM1299 211h1v1h-1zM1298 212h1v2h-1zM1297 214h1v1h-1zM1296 215h1v2h-1zM1295 217h1v1h-1zM1294 218h1v2h-1zM1293 220h1v1h-1zM1292 221h1v2h-1zM1291 223h1v1h-1zM1290 224h1v2h-1zM1289 226h1v1h-1zM1288 227h1v2h-1zM1287 229h1v1h-1zM1286 230h1v2h-1zM1285 232h1v1h-1zM1284 233h1v2h-1zM1283 235h1v1h-1zM1282 236h1v2h-1zM1281 238h1v1h-1zM1280 239h1v2h-1zM1279 241h1v1h-1zM1278 242h1v2h-1zM1277 244h1v1h-1zM1276 245h1v2h-1zM1275 247h1v1h-1zM1274 248h1v2h-1zM1273 250h1v1h-1zM1272 251h1v2h-1zM1271 253h1v1h-1zM1270 254h1v2h-1zM1269 256h1v1h-1zM1268 257h1v2h-1zM1267 259h1v1h-1zM1266 260h1v2h-1zM1265 262h1v1h-1zM1264 263h1v2h-1zM1263 265h1v1h-1zM1262 266h1v2h-1zM1261 268h1v1h-1zM1260 269h1v2h-1zM1259 271h1v1h-1zM1258 272h1v2h-1zM1257 274h1v1h-1zM1256 275h1v2h-1zM1255 277h1v1h-1zM1254 278h1v2h-1zM1253 280h1v1h-1zM1252 281h1v2h-1zM1251 283h1v1h-1zM1250 284h1v2h-1zM1249 286h1v1h-1zM1248 287h1v2h-1zM1247 289h1v1h-1zM1246 290h1v2h-1zM1245 292h1v1h-1zM1244 293h1v2h-1zM1243 295h1v1h-1zM1242 296h1v2h-1zM1241 298h1v1h-1zM1240 299h1v2h-1zM1239 301h1v1h-1zM1238 302h1v2h-1zM1237 304h1v1h-1zM1236 305h1v2h-1zM1235 307h1v1h-1zM1234 308h1v2h-1zM1233 310h1v1h-1zM1232 311h1v2h-1zM1231 313h1v1h-1zM1230 314h1v2h-1zM1229 316h1v1h-1zM1228 317h1v2h-1zM1227 319h1v1h-1zM1226 320h1v2h-1zM1225 322h1v1h-1zM1224 323h1v2h-1zM1223 325h1v1h-1zM1222 326h1v2h-1zM1221 328h1v1h-1zM1220 329h1v2h-1zM1219 331h1v1h-1zM1218 332h1v2h-1zM1217 334h1v1h-1zM1216 335h1v2h-1zM1215 337h1v1h-1zM1214 338h1v2h-1zM1213 340h1v1h-1zM1212 341h1v2h-1zM1211 343h1v1h-1zM1210 344h1v2h-1zM1209 346h1v1h-1zM1208 347h1v2h-1zM1207 349h1v1h-1zM1206 350h1v2h-1zM1205 352h1v1h-1zM1204 353h1v2h-1zM1203 355h1v1h-1zM1202 356h1v2h-1zM1201 358h1v1h-1zM1200 359h1v2h-1zM1199 361h1v1h-1zM1198 362h1v2h-1zM1197 364h1v1h-1zM1196 365h1v2h-1zM1195 367h1v1h-1zM1194 368h1v2h-1zM1193 370h1v1h-1zM1192 371h1v2h-1zM1191 373h1v1h-1zM1190 374h1v2h-1zM1189 376h1v1h-1zM1188 377h1v2h-1zM1187 379h1v1h-1zM1186 380h1v2h-1zM1185 382h1v1h-1zM1184 383h1v2h-1zM1183 385h1v1h-1zM1182 386h1v2h-1zM1181 388h1v1h-1zM1180 389h1v2h-1zM1179 391h1v1h-1zM1178 392h1v2h-1zM1177 394h1v1h-1zM1176 395h1v2h-1zM1175 397h1v1h-1z" fill="#000"/><path d="M1298 96h7v1h-7zM1305 97h13v1h-13zM1318 98h13v1h-13zM1331 99h13v1h-13zM1344 100h13v1h-13zM1357 101h13v1h-13zM1370 102h12v1h-12zM1382 103h13v1h-13zM1395 104h13v1h-13zM1408 105h13v1h-13zM1421 106h13v1h-13zM1434 107h13v1h-13zM1447 108h13v1h-13zM1460 109h13v1h-13zM1473 110h13v1h-13zM1486 111h13v1h-13zM1499 112h13v1h-13zM1512 113h13v1h-13zM1525 114h13v1h-13zM1538 115h12v1h-12zM1550 116h13v1h-13zM1563 117h13v1h-13zM1576 118h13v1h-13zM1589 119h13v1h-13zM1602 120h1v1h-1z" fill="#000"/><path d="M1504 47h2v1h-2zM1506 48h3v1h-3zM1509 49h3v1h-3zM1512 50h3v1h-3zM1515 51h3v1h-3zM1518 52h3v1h-3zM1521 53h3v1h-3zM1524 54h3v1h-3zM1527 55h3v1h-3zM1530 56h3v1h-3zM1533 57h3v1h-3zM1536 58h3v1h-3zM1539 59h3v1h-3zM1542 60h3v1h-3zM1545 61h3v1h-3zM1548 62h3v1h-3zM1551 63h3v1h-3zM1554 64h3v1h-3zM1557 65h3v1h-3zM1560 66h3v1h-3zM1563 67h3v1h-3zM1566 68h3v1h-3zM1569 69h3v1h-3zM1572 70h3v1h-3zM1575 71h3v1h-3zM1578 72h3v1h-3zM1581 73h3v1h-3zM1584 74h3v1h-3zM1587 75h4v1h-4zM1591 76h3v1h-3zM1594 77h3v1h-3zM1597 78h3v1h-3zM1600 79h3v1h-3zM1603 80h3v1h-3zM1606 81h3v1h-3zM1609 82h3v1h-3zM1612 83h3v1h-3zM1615 84h3v1h-3zM1618 85h3v1h-3zM1621 86h3v1h-3zM1624 87h3v1h-3zM1627 88h3v1h-3zM1630 89h3v1h-3zM1633 90h3v1h-3zM1636 91h3v1h-3zM1639 92h3v1h-3zM1642 93h3v1h-3zM1645 94h3v1h-3zM1648 95h3v1h-3zM1651 96h3v1h-3zM1654 97h3v1h-3zM1657 98h3v1h-3zM1660 99h3v1h-3zM1663 100h3v1h-3zM1666 101h3v1h-3zM1669 102h3v1h-3zM1672 103h4v1h-4zM1676 104h3v1h-3zM1679 105h3v1h-3zM1682 106h3v1h-3zM1685 107h3v1h-3zM1688 108h3v1h-3zM1691 109h3v1h-3zM1694 110h3v1h-3zM1697 111h3v1h-3zM1700 112h3v1h-3zM1703 113h3v1h-3zM1706 114h3v1h-3zM1709 115h3v1h-3zM1712 116h3v1h-3zM1715 117h3v1h-3zM1718 118h3v1h-3zM1721 119h3v1h-3zM1724 120h3v1h-3zM1727 121h3v1h-3zM1730 122h3v1h-3zM1733 123h3v1h-3zM1736 124h3v1h-3zM1739 125h3v1h-3zM1742 126h3v1h-3zM1745 127h3v1h-3zM1748 128h3v1h-3zM1751 129h3v1h-3zM1754 130h4v1h-4zM1758 131h3v1h-3zM1761 132h3v1h-3zM1764 133h3v1h-3zM1767 134h3v1h-3zM1770 135h3v1h-3zM1773 136h3v1h-3zM1776 137h3v1h-3zM1779 138h3v1h-3zM1782 139h3v1h-3zM1785 140h3v1h-3zM1788 141h3v1h-3zM1791 142h3v1h-3zM1794 143h3v1h-3zM1797 144h3v1h-3zM1800 145h3v1h-3zM1803 146h3v1h-3zM1806 147h2v1h-2z" fill="#ff0000"/><path d="M1734 128h69v1h-69z" fill="#000"/><path d="M1797 123h1v1h-1zM1796 124h1v1h-1zM1795 125h1v2h-1zM1794 127h1v1h-1zM1793 128h1v1h-1zM1792 129h1v1h-1zM1791 130h1v1h-1zM1790 131h1v1h-1zM1789 132h1v1h-1zM1788 133h1v1h-1zM1787 134h1v1h-1zM1786 135h1v1h-1zM1785 136h1v2h-1zM1784 138h1v1h-1zM1783 139h1v1h-1zM1782 140h1v1h-1zM1781 141h1v1h-1zM1780 142h1v1h-1zM1779 143h1v1h-1zM1778 144h1v1h-1zM1777 145h1v1h-1zM1776 146h1v2h-1zM1775 148h1v1h-1zM1774 149h1v1h-1zM1773 150h1v1h-1zM1772 151h1v1h-1zM1771 152h1v1h-1zM1770 153h1v1h-1zM1769 154h1v1h-1zM1768 155h1v1h-1zM1767 156h1v2h-1zM1766 158h1v1h-1zM1765 159h1v1h-1zM1764 160h1v1h-1zM1763 161h1v1h-1zM1762 162h1v1h-1zM1761 163h1v1h-1zM1760 164h1v1h-1zM1759 165h1v1h-1zM1758 166h1v1h-1zM1757 167h1v2h-1zM1756 169h1v1h-1zM1755 170h1v1h-1zM1754 171h1v1h-1zM1753 172h1v1h-1zM1752 173h1v1h-1zM1751 174h1v1h-1zM1750 175h1v1h-1zM1749 176h1v1h-1zM1748 177h1v2h-1zM1747 179h1v1h-1zM1746 180h1v1h-1zM1745 181h1v1h-1zM1744 182h1v1h-1zM1743 183h1v1h-1zM1742 184h1v1h-1zM1741 185h1v1h-1zM1740 186h1v1h-1zM1739 187h1v1h-1zM1738 188h1v2h-1zM1737 190h1v1h-1zM1736 191h1v1h-1zM1735 192h1v1h-1zM1734 193h1v1h-1z" fill="#000"/></g>
<g shape-rendering="crispEdges" fill="none"><path d="M35 690.5H1856M35 855.5H1856" stroke="#0000ff" stroke-width="1"/><path d="M38.5 880V878M43.5 880V875M53.5 880V877M58.5 880V878M62.5 880V879M67.5 880V878M72.5 880V877M76.5 880V878M81.5 880V878M86.5 880V877M91.5 880V879M96.5 880V877M101.5 880V878M106.5 880V877M111.5 880V873M116.5 880V873M121.5 880V869M126.5 880V853M131.5 880V877M136.5 880V878M140.5 880V877M145.5 880V878M150.5 880V878M155.5 880V879M165.5 880V878M170.5 880V879M175.5 880V877M180.5 880V879M185.5 880V879M189.5 880V879M194.5 880V876M199.5 880V855M204.5 880V874M209.5 880V877M214.5 880V873M224.5 880V878M229.5 880V876M234.5 880V876M239.5 880V877M244.5 880V879M249.5 880V878M254.5 880V877M259.5 880V879M264.5 880V876M268.5 880V879M273.5 880V876M283.5 880V877M288.5 880V876M293.5 880V876M298.5 880V877M303.5 880V878M308.5 880V879M313.5 880V879M317.5 880V879M322.5 880V874M327.5 880V879M332.5 880V872M337.5 880V876M341.5 880V877M346.5 880V878M351.5 880V874M356.5 880V878M361.5 880V878M366.5 880V879M381.5 880V876M385.5 880V872M390.5 880V877M400.5 880V879M415.5 880V879M430.5 880V879M435.5 880V879M440.5 880V876M445.5 880V879M455.5 880V876M460.5 880V877M464.5 880V878M469.5 880V877M479.5 880V879M484.5 880V878M489.5 880V878M494.5 880V877M504.5 880V879M509.5 880V863M513.5 880V878M518.5 880V877M523.5 880V878M528.5 880V875M533.5 880V876M538.5 880V873M543.5 880V877M548.5 880V877M553.5 880V878M558.5 880V878M563.5 880V877M573.5 880V879M578.5 880V877M587.5 880V879M592.5 880V879M597.5 880V878M602.5 880V876M611.5 880V879M616.5 880V876M621.5 880V878M631.5 880V879M636.5 880V876M641.5 880V877M645.5 880V872M650.5 880V877M655.5 880V878M660.5 880V877M665.5 880V871M670.5 880V876M675.5 880V876M680.5 880V875M685.5 880V877M690.5 880V878M695.5 880V878M699.5 880V879M709.5 880V865M714.5 880V877M719.5 880V879M724.5 880V878M729.5 880V876M734.5 880V861M748.5 880V879M753.5 880V877M758.5 880V878M763.5 880V878M768.5 880V877M773.5 880V873M778.5 880V879M783.5 880V879M788.5 880V878M793.5 880V878M798.5 880V878M808.5 880V879M813.5 880V878M818.5 880V878M822.5 880V876M827.5 880V865M832.5 880V879M842.5 880V879M847.5 880V879M852.5 880V878M857.5 880V879M862.5 880V873M867.5 880V877M872.5 880V844M876.5 880V868M881.5 880V855M886.5 880V870M891.5 880V872M895.5 880V870M900.5 880V872M905.5 880V875M910.5 880V878M915.5 880V875M920.5 880V872M925.5 880V876M930.5 880V871M935.5 880V873M940.5 880V875M944.5 880V877M949.5 880V872M954.5 880V874M959.5 880V876M964.5 880V876M969.5 880V873M974.5 880V876M979.5 880V875M984.5 880V877M989.5 880V878M994.5 880V875M999.5 880V874M1004.5 880V874M1009.5 880V874M1013.5 880V876M1018.5 880V870M1023.5 880V876M1028.5 880V876M1033.5 880V873M1038.5 880V871M1043.5 880V876M1048.5 880V856M1053.5 880V874M1058.5 880V856M1063.5 880V869M1067.5 880V834M1072.5 880V863M1077.5 880V827M1082.5 880V868M1087.5 880V869M1092.5 880V873M1097.5 880V876M1102.5 880V874M1107.5 880V870M1111.5 880V872M1116.5 880V873M1121.5 880V861M1126.5 880V875M1131.5 880V874M1136.5 880V875M1141.5 880V876M1145.5 880V874M1150.5 880V872M1155.5 880V874M1160.5 880V873M1165.5 880V869M1170.5 880V858M1175.5 880V865M1180.5 880V866M1185.5 880V870M1190.5 880V867M1195.5 880V875M1200.5 880V875M1204.5 880V874M1209.5 880V875M1214.5 880V878M1219.5 880V874M1224.5 880V873M1229.5 880V878M1234.5 880V877M1239.5 880V874M1244.5 880V873M1249.5 880V870M1254.5 880V872M1259.5 880V864M1264.5 880V868M1268.5 880V865M1273.5 880V865M1278.5 880V830M1283.5 880V855M1288.5 880V836M1293.5 880V871M1298.5 880V871M1303.5 880V869M1308.5 880V863M1313.5 880V871M1318.5 880V870M1322.5 880V868M1327.5 880V867M1332.5 880V869M1337.5 880V872M1342.5 880V872M1347.5 880V873M1352.5 880V854M1357.5 880V871M1362.5 880V873M1367.5 880V871M1372.5 880V873M1376.5 880V873M1381.5 880V873M1386.5 880V873M1391.5 880V872M1396.5 880V874M1401.5 880V874M1405.5 880V868M1410.5 880V820M1415.5 880V860M1420.5 880V825M1425.5 880V782M1430.5 880V851M1435.5 880V856M1440.5 880V866M1445.5 880V864M1450.5 880V865M1455.5 880V851M1459.5 880V867M1464.5 880V868M1469.5 880V864M1474.5 880V873M1479.5 880V869M1484.5 880V860M1489.5 880V856M1494.5 880V864M1499.5 880V870M1504.5 880V870M1509.5 880V867M1514.5 880V865M1518.5 880V867M1523.5 880V867M1528.5 880V870M1533.5 880V870M1538.5 880V871M1543.5 880V873M1548.5 880V869M1553.5 880V869M1558.5 880V873M1563.5 880V871M1568.5 880V858M1573.5 880V866M1577.5 880V868M1582.5 880V868M1587.5 880V872M1592.5 880V873M1597.5 880V872M1602.5 880V875M1607.5 880V873M1612.5 880V871M1617.5 880V867M1622.5 880V868M1627.5 880V868M1632.5 880V873M1636.5 880V874M1641.5 880V875M1646.5 880V870M1651.5 880V865M1656.5 880V872M1660.5 880V872M1665.5 880V874M1670.5 880V875M1675.5 880V874M1680.5 880V873M1685.5 880V866M1690.5 880V863M1695.5 880V870M1700.5 880V869M1704.5 880V868M1709.5 880V871M1714.5 880V873M1719.5 880V868M1724.5 880V873M1729.5 880V860M1734.5 880V862M1739.5 880V674M1744.5 880V852M1749.5 880V859M1754.5 880V865M1759.5 880V869M1763.5 880V866M1768.5 880V866M1773.5 880V862M1778.5 880V862M1783.5 880V863M1788.5 880V865M1793.5 880V868M1798.5 880V876" stroke="#0000ff" stroke-width="1"/></g><path d="M35 751h1v1h-1zM36 752h1v2h-1zM37 754h1v2h-1zM38 756h1v1h-1zM38 756h1v2h-1zM39 758h1v1h-1zM40 759h1v2h-1zM41 761h1v2h-1zM42 763h1v1h-1zM43 764h1v2h-1zM43 765h1v4h-1zM44 769h1v9h-1zM45 778h1v9h-1zM46 787h1v8h-1zM47 795h1v9h-1zM48 803h1v6h-1zM48 804h1v5h-1zM49 793h1v10h-1zM50 783h1v10h-1zM51 773h1v10h-1zM52 763h1v10h-1zM53 758h1v4h-1zM53 758h1v5h-1zM54 762h1v9h-1zM55 771h1v8h-1zM56 779h1v8h-1zM57 787h1v8h-1zM58 795h1v5h-1zM59 786h1v9h-1zM60 777h1v9h-1zM61 768h1v9h-1zM62 758h1v6h-1zM62 763h1v5h-1zM63 748h1v10h-1zM64 738h1v10h-1zM65 728h1v10h-1zM66 717h1v11h-1zM67 712h1v5h-1zM67 712h1v10h-1zM68 722h1v19h-1zM69 741h1v19h-1zM70 760h1v18h-1zM71 778h1v19h-1zM72 797h1v10h-1zM72 806h1v3h-1zM73 809h1v5h-1zM74 814h1v5h-1zM75 819h1v5h-1zM76 824h1v2h-1zM76 825h1v3h-1zM77 828h1v5h-1zM78 833h1v5h-1zM79 838h1v4h-1zM80 842h1v5h-1zM81 845h1v5h-1zM81 847h1v3h-1zM82 835h1v10h-1zM83 826h1v9h-1zM84 816h1v10h-1zM85 807h1v9h-1zM86 796h1v6h-1zM86 801h1v6h-1zM87 784h1v12h-1zM88 771h1v13h-1zM89 759h1v12h-1zM90 747h1v12h-1zM91 741h1v6h-1zM91 741h6v1h-6zM96 741h6v1h-6zM101 736h1v6h-1zM102 726h1v10h-1zM103 717h1v9h-1zM104 707h1v10h-1zM105 697h1v10h-1zM106 691h1v6h-1zM106 691h1v7h-1zM107 698h1v11h-1zM108 709h1v12h-1zM109 721h1v11h-1zM110 732h1v12h-1zM111 744h1v6h-1zM111 749h1v7h-1zM112 756h1v12h-1zM113 768h1v12h-1zM114 780h1v13h-1zM115 793h1v12h-1zM116 805h1v7h-1zM117 793h1v12h-1zM118 780h1v13h-1zM119 768h1v12h-1zM120 756h1v12h-1zM121 749h1v1h-1zM121 749h1v7h-1zM122 746h1v3h-1zM123 743h1v3h-1zM124 741h1v2h-1zM125 738h1v3h-1zM126 736h1v2h-1zM126 736h1v4h-1zM127 740h1v6h-1zM128 746h1v7h-1zM129 753h1v6h-1zM130 759h1v7h-1zM131 766h1v3h-1zM131 768h1v4h-1zM132 772h1v5h-1zM133 777h1v6h-1zM134 783h1v6h-1zM135 789h1v5h-1zM136 794h1v4h-1zM136 797h5v1h-5zM140 794h1v4h-1zM141 788h1v6h-1zM142 781h1v7h-1zM143 775h1v6h-1zM144 768h1v7h-1zM145 762h1v4h-1zM145 765h1v3h-1zM146 755h1v7h-1zM147 748h1v7h-1zM148 742h1v6h-1zM149 735h1v7h-1zM150 731h1v2h-1zM150 731h1v4h-1zM151 733h1v2h-1zM152 735h1v3h-1zM153 738h1v2h-1zM154 740h1v3h-1zM155 743h1v2h-1zM155 744h1v5h-1zM156 749h1v10h-1zM157 759h1v10h-1zM158 769h1v10h-1zM159 779h1v10h-1zM160 789h1v6h-1zM160 793h1v2h-1zM161 790h1v3h-1zM162 787h1v3h-1zM163 784h1v3h-1zM164 781h1v3h-1zM165 779h1v2h-1zM165 779h1v7h-1zM166 786h1v12h-1zM167 798h1v13h-1zM168 811h1v12h-1zM169 823h1v13h-1zM170 836h1v7h-1zM170 842h1v2h-1zM171 844h1v2h-1zM172 846h1v2h-1zM173 848h1v3h-1zM174 851h1v2h-1zM175 850h1v4h-1zM175 853h1v1h-1zM176 841h1v9h-1zM177 832h1v9h-1zM178 824h1v8h-1zM179 815h1v9h-1zM180 804h1v7h-1zM180 810h1v5h-1zM181 791h1v13h-1zM182 777h1v14h-1zM183 764h1v13h-1zM184 751h1v13h-1zM185 744h1v3h-1zM185 744h1v7h-1zM186 747h1v4h-1zM187 751h1v5h-1zM188 756h1v5h-1zM189 758h1v6h-1zM189 761h1v3h-1zM190 747h1v11h-1zM191 737h1v10h-1zM192 726h1v11h-1zM193 715h1v11h-1zM194 708h1v2h-1zM194 709h1v6h-1zM195 705h1v3h-1zM196 701h1v4h-1zM197 698h1v3h-1zM198 694h1v4h-1zM199 692h1v2h-1zM199 692h1v3h-1zM200 695h1v4h-1zM201 699h1v4h-1zM202 703h1v4h-1zM203 707h1v4h-1zM204 711h1v3h-1zM204 713h1v3h-1zM205 716h1v4h-1zM206 720h1v5h-1zM207 725h1v5h-1zM208 730h1v5h-1zM209 735h1v3h-1zM210 730h1v5h-1zM211 725h1v5h-1zM212 720h1v5h-1zM213 716h1v4h-1zM214 713h1v3h-1zM215 716h1v4h-1zM216 720h1v5h-1zM217 725h1v5h-1zM218 730h1v5h-1zM219 735h1v3h-1zM220 731h1v4h-1zM221 727h1v4h-1zM222 723h1v4h-1zM223 719h1v4h-1zM224 717h1v2h-1zM224 717h1v9h-1zM225 726h1v18h-1zM226 744h1v18h-1zM227 762h1v17h-1zM228 779h1v18h-1zM229 797h1v9h-1zM229 805h1v1h-1zM230 804h1v1h-1zM231 803h1v1h-1zM232 802h1v1h-1zM233 801h1v1h-1zM234 793h1v8h-1zM234 800h1v1h-1zM235 777h1v16h-1zM236 761h1v16h-1zM237 745h1v16h-1zM238 729h1v16h-1zM239 720h1v2h-1zM239 721h1v8h-1zM240 717h1v3h-1zM241 714h1v3h-1zM242 711h1v3h-1zM243 709h1v2h-1zM244 707h1v1h-1zM244 707h1v2h-1zM245 705h1v2h-1zM246 704h1v1h-1zM247 703h1v1h-1zM248 702h1v1h-1zM249 700h1v1h-1zM249 700h1v2h-1zM250 697h1v3h-1zM251 695h1v2h-1zM252 693h1v2h-1zM253 691h1v2h-1zM254 689h1v1h-1zM254 689h1v2h-1zM255 688h2v1h-2zM257 687h1v1h-1zM258 686h2v1h-2zM259 685h1v2h-1zM260 683h1v2h-1zM261 681h1v2h-1zM262 679h1v2h-1zM263 677h1v2h-1zM264 676h1v1h-1zM265 677h1v2h-1zM266 679h1v1h-1zM267 680h1v2h-1zM268 682h1v2h-1zM268 683h1v8h-1zM269 691h1v17h-1zM270 708h1v16h-1zM271 724h1v16h-1zM272 740h1v17h-1zM273 757h1v8h-1zM273 764h1v2h-1zM274 766h1v4h-1zM275 770h1v3h-1zM276 773h1v3h-1zM277 776h1v4h-1zM278 780h1v2h-1zM278 781h1v3h-1zM279 784h1v5h-1zM280 789h1v4h-1zM281 793h1v5h-1zM282 798h1v5h-1zM283 803h1v3h-1zM283 805h1v4h-1zM284 809h1v6h-1zM285 815h1v6h-1zM286 821h1v7h-1zM287 828h1v6h-1zM288 834h1v4h-1zM288 835h1v3h-1zM289 829h1v6h-1zM290 823h1v6h-1zM291 818h1v5h-1zM292 812h1v6h-1zM293 809h1v1h-1zM293 809h1v3h-1zM294 807h1v2h-1zM295 806h1v1h-1zM296 804h1v2h-1zM297 803h1v1h-1zM298 796h1v7h-1zM298 802h1v1h-1zM299 783h1v13h-1zM300 771h1v12h-1zM301 758h1v13h-1zM302 745h1v13h-1zM303 739h1v1h-1zM303 739h1v6h-1zM304 738h2v1h-2zM306 737h2v1h-2zM308 736h1v1h-1zM308 736h1v4h-1zM309 740h1v7h-1zM310 747h1v7h-1zM311 754h1v8h-1zM312 762h1v7h-1zM313 769h1v4h-1zM313 772h1v8h-1zM314 780h1v16h-1zM315 796h1v16h-1zM316 812h1v16h-1zM317 828h1v9h-1zM317 830h1v7h-1zM318 818h1v12h-1zM319 805h1v13h-1zM320 793h1v12h-1zM321 781h1v12h-1zM322 774h1v4h-1zM322 774h1v7h-1zM323 778h1v8h-1zM324 786h1v8h-1zM325 794h1v8h-1zM326 802h1v7h-1zM327 809h1v5h-1zM327 813h1v3h-1zM328 816h1v7h-1zM329 823h1v7h-1zM330 830h1v6h-1zM331 836h1v7h-1zM332 843h1v4h-1zM332 844h1v3h-1zM333 839h1v5h-1zM334 835h1v4h-1zM335 830h1v5h-1zM336 826h1v4h-1zM337 815h1v9h-1zM337 823h1v3h-1zM338 797h1v18h-1zM339 780h1v17h-1zM340 762h1v18h-1zM341 753h1v4h-1zM341 753h1v9h-1zM342 757h1v9h-1zM343 766h1v8h-1zM344 774h1v8h-1zM345 782h1v9h-1zM346 791h1v4h-1zM346 794h1v5h-1zM347 799h1v9h-1zM348 808h1v9h-1zM349 817h1v9h-1zM350 826h1v9h-1zM351 835h1v5h-1zM351 837h1v3h-1zM352 831h1v6h-1zM353 826h1v5h-1zM354 820h1v6h-1zM355 814h1v6h-1zM356 811h1v1h-1zM356 811h1v3h-1zM357 812h1v1h-1zM358 813h1v1h-1zM359 814h1v1h-1zM360 815h1v1h-1zM361 814h1v3h-1zM361 816h1v1h-1zM362 809h1v5h-1zM363 805h1v4h-1zM364 800h1v5h-1zM365 796h1v4h-1zM366 793h1v2h-1zM366 793h1v3h-1zM367 795h1v4h-1zM368 799h1v3h-1zM369 802h1v4h-1zM370 806h1v3h-1zM371 808h1v4h-1zM371 809h1v3h-1zM372 802h1v6h-1zM373 795h1v7h-1zM374 789h1v6h-1zM375 783h1v6h-1zM376 777h1v3h-1zM376 779h1v4h-1zM377 771h1v6h-1zM378 765h1v6h-1zM379 759h1v6h-1zM380 752h1v7h-1zM381 746h1v4h-1zM381 749h1v3h-1zM382 738h1v8h-1zM383 730h1v8h-1zM384 723h1v7h-1zM385 716h1v3h-1zM385 718h1v5h-1zM386 710h1v6h-1zM387 704h1v6h-1zM388 697h1v7h-1zM389 691h1v6h-1zM390 688h1v1h-1zM390 688h1v3h-1zM391 689h1v3h-1zM392 692h1v3h-1zM393 695h1v2h-1zM394 697h1v3h-1zM395 700h1v2h-1zM395 701h1v1h-1zM396 700h1v1h-1zM397 699h1v1h-1zM398 697h1v2h-1zM399 696h1v1h-1zM400 695h1v1h-1zM400 695h3v1h-3zM403 694h3v1h-3zM405 694h6v1h-6zM410 692h1v3h-1zM411 689h1v3h-1zM412 686h1v3h-1zM413 683h1v3h-1zM414 680h1v3h-1zM415 678h1v2h-1zM415 678h1v4h-1zM416 682h1v7h-1zM417 689h1v7h-1zM418 696h1v7h-1zM419 703h1v8h-1zM420 711h1v4h-1zM420 713h1v2h-1zM421 710h1v3h-1zM422 708h1v2h-1zM423 705h1v3h-1zM424 702h1v3h-1zM425 699h1v2h-1zM425 700h1v2h-1zM426 696h1v3h-1zM427 693h1v3h-1zM428 690h1v3h-1zM429 687h1v3h-1zM430 685h1v1h-1zM430 685h1v2h-1zM431 684h1v1h-1zM432 683h1v1h-1zM433 682h1v1h-1zM434 681h1v1h-1zM435 679h1v2h-1zM435 679h1v6h-1zM436 685h1v10h-1zM437 695h1v9h-1zM438 704h1v10h-1zM439 714h1v10h-1zM440 724h1v5h-1zM440 728h1v10h-1zM441 738h1v18h-1zM442 756h1v18h-1zM443 774h1v17h-1zM444 791h1v18h-1zM445 809h1v10h-1zM445 818h1v1h-1zM446 819h1v2h-1zM447 821h1v2h-1zM448 823h1v2h-1zM449 825h1v2h-1zM450 827h1v2h-1zM450 828h1v3h-1zM451 831h1v5h-1zM452 836h1v6h-1zM453 842h1v5h-1zM454 847h1v6h-1zM455 853h1v3h-1zM456 847h1v6h-1zM457 842h1v5h-1zM458 837h1v5h-1zM459 832h1v5h-1zM460 829h1v3h-1zM460 829h4v1h-4zM464 827h1v4h-1zM464 830h1v1h-1zM465 821h1v6h-1zM466 814h1v7h-1zM467 808h1v6h-1zM468 801h1v7h-1zM469 797h1v4h-1zM469 797h6v1h-6zM474 791h1v7h-1zM475 779h1v12h-1zM476 767h1v12h-1zM477 755h1v12h-1zM478 743h1v12h-1zM479 733h1v4h-1zM479 736h1v7h-1zM480 726h1v7h-1zM481 719h1v7h-1zM482 712h1v7h-1zM483 704h1v8h-1zM484 700h1v1h-1zM484 700h1v4h-1zM485 697h1v3h-1zM486 695h1v2h-1zM487 692h1v3h-1zM488 689h1v3h-1zM489 688h1v1h-1zM490 689h1v2h-1zM491 691h1v2h-1zM492 693h1v2h-1zM493 695h1v2h-1zM494 697h1v2h-1zM494 698h6v1h-6zM499 698h1v6h-1zM500 704h1v12h-1zM501 716h1v12h-1zM502 728h1v11h-1zM503 739h1v12h-1zM504 751h1v7h-1zM504 757h1v8h-1zM505 765h1v17h-1zM506 782h1v17h-1zM507 799h1v16h-1zM508 815h1v17h-1zM509 832h1v9h-1zM509 840h2v1h-2zM511 841h3v1h-3zM513 841h1v1h-1zM514 842h1v1h-1zM515 843h2v1h-2zM517 844h1v1h-1zM518 845h1v1h-1zM519 846h1v2h-1zM520 848h1v2h-1zM521 850h1v2h-1zM522 852h1v2h-1zM523 849h1v6h-1zM523 854h1v1h-1zM524 838h1v11h-1zM525 826h1v12h-1zM526 815h1v11h-1zM527 804h1v11h-1zM528 792h1v6h-1zM528 797h1v7h-1zM529 779h1v13h-1zM530 767h1v12h-1zM531 755h1v12h-1zM532 743h1v12h-1zM533 736h1v7h-1zM533 736h1v10h-1zM534 746h1v18h-1zM535 764h1v18h-1zM536 782h1v17h-1zM537 799h1v18h-1zM538 817h1v10h-1zM538 820h1v7h-1zM539 806h1v14h-1zM540 792h1v14h-1zM541 779h1v13h-1zM542 765h1v14h-1zM543 757h1v2h-1zM543 758h1v7h-1zM544 753h1v4h-1zM545 750h1v3h-1zM546 747h1v3h-1zM547 743h1v4h-1zM548 740h1v2h-1zM548 741h1v2h-1zM549 738h1v2h-1zM550 736h1v2h-1zM551 733h1v3h-1zM552 731h1v2h-1zM553 729h1v2h-1zM553 729h6v1h-6zM558 729h1v8h-1zM559 737h1v15h-1zM560 752h1v16h-1zM561 768h1v15h-1zM562 783h1v15h-1zM563 798h1v8h-1zM563 802h1v4h-1zM564 794h1v8h-1zM565 786h1v8h-1zM566 778h1v8h-1zM567 770h1v8h-1zM568 765h1v2h-1zM568 766h1v4h-1zM569 763h1v2h-1zM570 761h1v2h-1zM571 759h1v2h-1zM572 756h1v3h-1zM573 755h1v1h-1zM573 755h1v2h-1zM574 757h1v3h-1zM575 760h1v4h-1zM576 764h1v3h-1zM577 767h1v4h-1zM578 771h1v2h-1zM579 769h1v2h-1zM580 766h1v3h-1zM581 763h1v3h-1zM582 762h1v1h-1zM582 762h1v7h-1zM583 769h1v14h-1zM584 783h1v14h-1zM585 797h1v13h-1zM586 810h1v14h-1zM587 824h1v7h-1zM587 830h1v2h-1zM588 832h1v1h-1zM589 833h1v1h-1zM590 834h1v1h-1zM591 835h1v2h-1zM592 836h1v2h-1zM592 837h1v1h-1zM593 832h1v4h-1zM594 829h1v3h-1zM595 826h1v3h-1zM596 822h1v4h-1zM597 817h1v4h-1zM597 820h1v2h-1zM598 811h1v6h-1zM599 804h1v7h-1zM600 798h1v6h-1zM601 791h1v7h-1zM602 784h1v4h-1zM602 787h1v4h-1zM603 776h1v8h-1zM604 768h1v8h-1zM605 760h1v8h-1zM606 755h1v5h-1zM606 755h1v6h-1zM607 761h1v11h-1zM608 772h1v10h-1zM609 782h1v11h-1zM610 793h1v11h-1zM611 804h1v5h-1zM611 808h1v6h-1zM612 814h1v10h-1zM613 824h1v10h-1zM614 834h1v9h-1zM615 843h1v10h-1zM616 853h1v6h-1zM616 858h3v1h-3zM619 859h3v1h-3zM621 854h1v6h-1zM622 844h1v10h-1zM623 833h1v11h-1zM624 822h1v11h-1zM625 811h1v11h-1zM626 800h1v6h-1zM626 805h1v6h-1zM627 790h1v10h-1zM628 780h1v10h-1zM629 769h1v11h-1zM630 759h1v10h-1zM631 749h1v5h-1zM631 753h1v6h-1zM632 739h1v10h-1zM633 730h1v9h-1zM634 720h1v10h-1zM635 711h1v9h-1zM636 705h1v2h-1zM636 706h1v5h-1zM637 704h1v1h-1zM638 703h1v1h-1zM639 702h1v1h-1zM640 700h1v2h-1zM641 699h1v1h-1zM642 698h1v1h-1zM643 696h1v2h-1zM644 695h1v1h-1zM645 694h1v1h-1zM646 695h1v3h-1zM647 698h1v3h-1zM648 701h1v2h-1zM649 703h1v3h-1zM650 706h1v2h-1zM650 707h1v1h-1zM651 706h2v1h-2zM653 705h1v1h-1zM654 704h2v1h-2zM655 704h1v1h-1zM656 703h1v1h-1zM657 702h1v1h-1zM658 701h1v1h-1zM659 699h1v2h-1zM660 696h1v3h-1zM660 698h1v1h-1zM661 691h1v5h-1zM662 686h1v5h-1zM663 681h1v5h-1zM664 676h1v5h-1zM665 673h1v3h-1zM665 673h1v6h-1zM666 679h1v11h-1zM667 690h1v11h-1zM668 701h1v11h-1zM669 712h1v11h-1zM670 723h1v6h-1zM670 727h1v2h-1zM671 723h1v4h-1zM672 720h1v3h-1zM673 717h1v3h-1zM674 713h1v4h-1zM675 711h1v1h-1zM675 711h1v2h-1zM676 712h1v1h-1zM677 713h1v1h-1zM678 714h1v1h-1zM679 715h1v1h-1zM680 714h1v3h-1zM680 716h1v1h-1zM681 708h1v6h-1zM682 702h1v6h-1zM683 696h1v6h-1zM684 691h1v5h-1zM685 687h1v4h-1zM685 687h1v6h-1zM686 693h1v10h-1zM687 703h1v10h-1zM688 713h1v10h-1zM689 723h1v10h-1zM690 733h1v5h-1zM690 737h1v2h-1zM691 739h1v3h-1zM692 742h1v3h-1zM693 745h1v2h-1zM694 747h1v3h-1zM695 748h1v4h-1zM695 750h1v2h-1zM696 741h1v7h-1zM697 734h1v7h-1zM698 727h1v7h-1zM699 723h1v2h-1zM699 723h1v4h-1zM700 725h1v5h-1zM701 730h1v4h-1zM702 734h1v4h-1zM703 738h1v4h-1zM704 742h1v3h-1zM704 744h1v2h-1zM705 746h1v4h-1zM706 750h1v4h-1zM707 754h1v5h-1zM708 759h1v4h-1zM709 763h1v2h-1zM709 764h1v6h-1zM710 770h1v10h-1zM711 780h1v10h-1zM712 790h1v10h-1zM713 800h1v10h-1zM714 810h1v6h-1zM714 815h1v2h-1zM715 817h1v2h-1zM716 819h1v3h-1zM717 822h1v3h-1zM718 825h1v3h-1zM719 818h1v12h-1zM719 828h1v2h-1zM720 795h1v23h-1zM721 773h1v22h-1zM722 750h1v23h-1zM723 728h1v22h-1zM724 714h1v3h-1zM724 716h1v12h-1zM725 710h1v4h-1zM726 707h1v3h-1zM727 703h1v4h-1zM728 699h1v4h-1zM729 696h1v2h-1zM729 697h1v2h-1zM730 695h1v1h-1zM731 694h1v1h-1zM732 693h1v1h-1zM733 691h1v2h-1zM734 690h1v1h-1zM734 690h1v4h-1zM735 694h1v7h-1zM736 701h1v8h-1zM737 709h1v7h-1zM738 716h1v7h-1zM739 723h1v4h-1zM739 726h1v4h-1zM740 730h1v7h-1zM741 737h1v7h-1zM742 744h1v7h-1zM743 751h1v6h-1zM744 757h1v4h-1zM744 758h1v3h-1zM745 752h1v6h-1zM746 745h1v7h-1zM747 739h1v6h-1zM748 736h1v1h-1zM748 736h1v3h-1zM749 735h1v1h-1zM750 734h2v1h-2zM752 733h1v1h-1zM753 732h1v1h-1zM754 731h1v1h-1zM755 730h1v1h-1zM756 728h1v2h-1zM757 727h1v1h-1zM758 725h1v2h-1zM758 726h1v1h-1zM759 723h1v2h-1zM760 720h1v3h-1zM761 718h1v2h-1zM762 715h1v3h-1zM763 714h1v1h-1zM763 714h1v9h-1zM764 723h1v19h-1zM765 742h1v18h-1zM766 760h1v18h-1zM767 778h1v19h-1zM768 797h1v9h-1zM769 779h1v18h-1zM770 760h1v19h-1zM771 742h1v18h-1zM772 724h1v18h-1zM773 714h1v10h-1zM773 714h2v1h-2zM775 713h1v1h-1zM776 712h1v1h-1zM777 711h1v1h-1zM778 710h1v1h-1zM778 710h1v5h-1zM779 715h1v8h-1zM780 723h1v8h-1zM781 731h1v8h-1zM782 739h1v9h-1zM783 748h1v4h-1zM783 750h1v2h-1zM784 747h1v3h-1zM785 743h1v4h-1zM786 739h1v4h-1zM787 736h1v3h-1zM788 732h1v3h-1zM788 734h1v2h-1zM789 727h1v5h-1zM790 722h1v5h-1zM791 717h1v5h-1zM792 712h1v5h-1zM793 709h1v3h-1zM793 709h1v5h-1zM794 714h1v10h-1zM795 724h1v9h-1zM796 733h1v10h-1zM797 743h1v9h-1zM798 752h1v6h-1zM798 755h1v3h-1zM799 752h1v3h-1zM800 748h1v4h-1zM801 745h1v3h-1zM802 742h1v3h-1zM803 739h1v3h-1zM803 739h1v6h-1zM804 745h1v9h-1zM805 754h1v10h-1zM806 764h1v9h-1zM807 773h1v10h-1zM808 783h1v5h-1zM808 787h1v5h-1zM809 792h1v8h-1zM810 800h1v9h-1zM811 809h1v8h-1zM812 817h1v9h-1zM813 826h1v4h-1zM813 829h1v1h-1zM814 830h1v2h-1zM815 832h1v2h-1zM816 834h1v1h-1zM817 835h1v2h-1zM818 837h1v1h-1zM819 838h1v2h-1zM820 840h1v1h-1zM821 841h1v2h-1zM822 839h1v5h-1zM822 843h1v1h-1zM823 831h1v8h-1zM824 823h1v8h-1zM825 815h1v8h-1zM826 807h1v8h-1zM827 802h1v3h-1zM827 802h1v5h-1zM828 805h1v4h-1zM829 809h1v5h-1zM830 814h1v4h-1zM831 818h1v4h-1zM832 814h1v11h-1zM832 822h1v3h-1zM833 795h1v19h-1zM834 776h1v19h-1zM835 757h1v19h-1zM836 737h1v20h-1zM837 726h1v2h-1zM837 727h1v10h-1zM838 723h1v3h-1zM839 720h1v3h-1zM840 717h1v3h-1zM841 714h1v3h-1zM842 711h1v2h-1zM842 712h1v2h-1zM843 707h1v4h-1zM844 704h1v3h-1zM845 700h1v4h-1zM846 697h1v3h-1zM847 695h1v2h-1zM848 697h1v4h-1zM849 701h1v3h-1zM850 704h1v4h-1zM851 708h1v3h-1zM852 711h1v3h-1zM853 708h1v3h-1zM854 704h1v4h-1zM855 701h1v3h-1zM856 698h1v3h-1zM857 694h1v2h-1zM857 695h1v3h-1zM858 691h1v3h-1zM859 688h1v3h-1zM860 685h1v3h-1zM861 682h1v3h-1zM862 680h1v2h-1zM862 680h1v5h-1zM863 685h1v9h-1zM864 694h1v9h-1zM865 703h1v10h-1zM866 713h1v9h-1zM867 722h1v5h-1zM867 726h1v7h-1zM868 733h1v14h-1zM869 747h1v13h-1zM870 760h1v14h-1zM871 774h1v13h-1zM872 787h1v8h-1zM872 794h1v2h-1zM873 796h1v5h-1zM874 801h1v5h-1zM875 806h1v5h-1zM876 811h1v3h-1zM876 813h1v2h-1zM877 815h1v5h-1zM878 820h1v5h-1zM879 825h1v4h-1zM880 829h1v5h-1zM881 829h1v8h-1zM881 834h1v3h-1zM882 815h1v14h-1zM883 800h1v15h-1zM884 786h1v14h-1zM885 772h1v14h-1zM886 762h1v3h-1zM886 764h1v8h-1zM887 756h1v6h-1zM888 751h1v5h-1zM889 745h1v6h-1zM890 739h1v6h-1zM891 734h1v3h-1zM891 736h1v3h-1zM892 729h1v5h-1zM893 724h1v5h-1zM894 719h1v5h-1zM895 714h1v3h-1zM895 716h1v3h-1zM896 708h1v6h-1zM897 703h1v5h-1zM898 697h1v6h-1zM899 692h1v5h-1zM900 689h1v1h-1zM900 689h1v3h-1zM901 688h2v1h-2zM903 687h1v1h-1zM904 686h2v1h-2zM905 686h1v1h-1zM906 685h1v1h-1zM907 684h1v1h-1zM908 683h1v1h-1zM909 682h1v1h-1zM910 681h1v1h-1zM911 680h1v1h-1zM912 678h1v2h-1zM913 677h1v1h-1zM914 676h1v1h-1zM915 674h1v2h-1zM915 674h6v1h-6zM920 674h1v6h-1zM921 680h1v12h-1zM922 692h1v11h-1zM923 703h1v12h-1zM924 715h1v12h-1zM925 727h1v6h-1zM925 730h1v3h-1zM926 724h1v6h-1zM927 718h1v6h-1zM928 712h1v6h-1zM929 706h1v6h-1zM930 702h1v2h-1zM930 702h1v4h-1zM931 704h1v3h-1zM932 707h1v2h-1zM933 709h1v2h-1zM934 711h1v3h-1zM935 714h1v1h-1zM935 714h1v4h-1zM936 718h1v7h-1zM937 725h1v7h-1zM938 732h1v7h-1zM939 739h1v7h-1zM940 746h1v4h-1zM940 749h1v1h-1zM941 748h2v1h-2zM943 747h1v1h-1zM944 741h1v6h-1zM944 746h1v1h-1zM945 729h1v12h-1zM946 717h1v12h-1zM947 706h1v11h-1zM948 694h1v12h-1zM949 688h1v1h-1zM949 688h1v6h-1zM950 687h1v1h-1zM951 686h1v1h-1zM952 685h2v1h-2zM954 684h1v1h-1zM955 683h1v1h-1zM956 681h1v2h-1zM957 680h1v1h-1zM958 679h1v1h-1zM959 678h1v1h-1zM959 678h3v1h-3zM962 677h3v1h-3zM964 677h2v1h-2zM966 676h2v1h-2zM968 675h2v1h-2zM969 675h2v1h-2zM971 674h2v1h-2zM973 673h2v1h-2zM974 673h2v1h-2zM976 672h4v1h-4zM979 672h4v1h-4zM983 671h2v1h-2zM984 671h6v1h-6zM989 671h1v6h-1zM990 677h1v11h-1zM991 688h1v12h-1zM992 700h1v11h-1zM993 711h1v11h-1zM994 722h1v6h-1zM994 723h1v5h-1zM995 715h1v8h-1zM996 707h1v8h-1zM997 698h1v9h-1zM998 690h1v8h-1zM999 685h1v1h-1zM999 685h1v5h-1zM1000 683h1v2h-1zM1001 682h1v1h-1zM1002 680h1v2h-1zM1003 678h1v2h-1zM1004 677h1v1h-1zM1004 677h1v4h-1zM1005 681h1v6h-1zM1006 687h1v7h-1zM1007 694h1v6h-1zM1008 700h1v7h-1zM1009 707h1v3h-1zM1009 709h2v1h-2zM1011 708h1v1h-1zM1012 707h2v1h-2zM1013 706h1v2h-1zM1014 704h1v2h-1zM1015 701h1v3h-1zM1016 699h1v2h-1zM1017 696h1v3h-1zM1018 695h1v1h-1zM1018 695h1v3h-1zM1019 698h1v5h-1zM1020 703h1v6h-1zM1021 709h1v5h-1zM1022 714h1v6h-1zM1023 720h1v3h-1zM1023 722h2v1h-2zM1025 721h2v1h-2zM1027 720h2v1h-2zM1028 720h1v4h-1zM1029 724h1v8h-1zM1030 732h1v8h-1zM1031 740h1v8h-1zM1032 748h1v8h-1zM1033 756h1v4h-1zM1033 759h1v8h-1zM1034 767h1v16h-1zM1035 783h1v15h-1zM1036 798h1v16h-1zM1037 814h1v16h-1zM1038 830h1v8h-1zM1039 814h1v16h-1zM1040 798h1v16h-1zM1041 783h1v15h-1zM1042 767h1v16h-1zM1043 758h1v2h-1zM1043 759h1v8h-1zM1044 754h1v4h-1zM1045 751h1v3h-1zM1046 747h1v4h-1zM1047 744h1v3h-1zM1048 740h1v2h-1zM1048 741h1v3h-1zM1049 738h1v2h-1zM1050 735h1v3h-1zM1051 733h1v2h-1zM1052 730h1v3h-1zM1053 728h1v1h-1zM1053 728h1v2h-1zM1054 727h1v1h-1zM1055 726h1v1h-1zM1056 725h1v1h-1zM1057 724h1v1h-1zM1058 723h1v1h-1zM1058 723h1v8h-1zM1059 731h1v14h-1zM1060 745h1v14h-1zM1061 759h1v15h-1zM1062 774h1v14h-1zM1063 788h1v8h-1zM1063 794h1v2h-1zM1064 792h1v2h-1zM1065 790h1v2h-1zM1066 788h1v2h-1zM1067 787h1v1h-1zM1067 787h1v4h-1zM1068 791h1v8h-1zM1069 799h1v7h-1zM1070 806h1v8h-1zM1071 814h1v8h-1zM1072 817h1v9h-1zM1072 822h1v4h-1zM1073 799h1v18h-1zM1074 781h1v18h-1zM1075 763h1v18h-1zM1076 745h1v18h-1zM1077 734h1v3h-1zM1077 736h1v9h-1zM1078 728h1v6h-1zM1079 722h1v6h-1zM1080 716h1v6h-1zM1081 710h1v6h-1zM1082 705h1v3h-1zM1082 707h1v3h-1zM1083 701h1v4h-1zM1084 697h1v4h-1zM1085 694h1v3h-1zM1086 690h1v4h-1zM1087 687h1v3h-1zM1087 687h1v6h-1zM1088 693h1v11h-1zM1089 704h1v11h-1zM1090 715h1v11h-1zM1091 726h1v11h-1zM1092 737h1v6h-1zM1092 739h1v4h-1zM1093 733h1v6h-1zM1094 727h1v6h-1zM1095 721h1v6h-1zM1096 715h1v6h-1zM1097 711h1v2h-1zM1097 712h1v3h-1zM1098 709h1v2h-1zM1099 707h1v2h-1zM1100 704h1v3h-1zM1101 702h1v2h-1zM1102 700h1v1h-1zM1102 700h1v2h-1zM1103 699h1v1h-1zM1104 698h1v1h-1zM1105 696h1v2h-1zM1106 695h1v1h-1zM1107 694h1v1h-1zM1108 692h1v2h-1zM1109 691h1v1h-1zM1110 689h1v2h-1zM1111 688h1v1h-1zM1111 688h6v1h-6zM1116 688h1v5h-1zM1117 693h1v10h-1zM1118 703h1v11h-1zM1119 714h1v10h-1zM1120 724h1v10h-1zM1121 734h1v6h-1zM1121 739h1v8h-1zM1122 747h1v15h-1zM1123 762h1v15h-1zM1124 777h1v16h-1zM1125 793h1v15h-1zM1126 808h1v8h-1zM1126 810h1v6h-1zM1127 798h1v12h-1zM1128 786h1v12h-1zM1129 775h1v11h-1zM1130 763h1v12h-1zM1131 753h1v5h-1zM1131 757h1v6h-1zM1132 746h1v7h-1zM1133 739h1v7h-1zM1134 732h1v7h-1zM1135 724h1v8h-1zM1136 720h1v1h-1zM1136 720h1v4h-1zM1137 721h2v1h-2zM1139 722h2v1h-2zM1141 722h1v2h-1zM1141 723h1v1h-1zM1142 718h1v4h-1zM1143 715h1v3h-1zM1144 712h1v3h-1zM1145 708h1v2h-1zM1145 709h1v3h-1zM1146 705h1v3h-1zM1147 703h1v2h-1zM1148 700h1v3h-1zM1149 697h1v3h-1zM1150 695h1v2h-1zM1150 695h1v6h-1zM1151 701h1v10h-1zM1152 711h1v11h-1zM1153 722h1v10h-1zM1154 732h1v11h-1zM1155 743h1v6h-1zM1155 744h1v5h-1zM1156 734h1v10h-1zM1157 725h1v9h-1zM1158 716h1v9h-1zM1159 707h1v9h-1zM1160 702h1v4h-1zM1160 702h1v5h-1zM1161 706h1v8h-1zM1162 714h1v8h-1zM1163 722h1v8h-1zM1164 730h1v8h-1zM1165 738h1v4h-1zM1165 741h1v11h-1zM1166 752h1v20h-1zM1167 772h1v20h-1zM1168 792h1v21h-1zM1169 813h1v20h-1zM1170 833h1v11h-1zM1170 843h1v1h-1zM1171 841h1v2h-1zM1172 840h1v1h-1zM1173 838h1v2h-1zM1174 837h1v1h-1zM1175 830h1v7h-1zM1175 836h1v1h-1zM1176 818h1v12h-1zM1177 807h1v11h-1zM1178 795h1v12h-1zM1179 783h1v12h-1zM1180 776h1v3h-1zM1180 776h1v7h-1zM1181 779h1v3h-1zM1182 782h1v3h-1zM1183 785h1v4h-1zM1184 789h1v3h-1zM1185 788h1v7h-1zM1185 792h1v3h-1zM1186 776h1v12h-1zM1187 764h1v12h-1zM1188 752h1v12h-1zM1189 740h1v12h-1zM1190 733h1v5h-1zM1190 733h1v7h-1zM1191 738h1v8h-1zM1192 746h1v9h-1zM1193 755h1v8h-1zM1194 763h1v9h-1zM1195 771h1v6h-1zM1195 772h1v5h-1zM1196 762h1v9h-1zM1197 753h1v9h-1zM1198 743h1v10h-1zM1199 734h1v9h-1zM1200 728h1v1h-1zM1200 728h1v6h-1zM1201 725h1v3h-1zM1202 723h1v2h-1zM1203 720h1v3h-1zM1204 718h1v1h-1zM1204 718h1v2h-1zM1205 717h1v1h-1zM1206 716h1v1h-1zM1207 714h1v2h-1zM1208 713h1v1h-1zM1209 712h1v1h-1zM1209 712h2v1h-2zM1211 713h3v1h-3zM1214 713h1v2h-1zM1214 714h1v1h-1zM1215 710h1v3h-1zM1216 707h1v3h-1zM1217 704h1v3h-1zM1218 701h1v3h-1zM1219 699h1v2h-1zM1219 699h2v1h-2zM1221 698h2v1h-2zM1223 697h2v1h-2zM1224 696h1v2h-1zM1225 695h1v1h-1zM1226 693h1v2h-1zM1227 692h1v1h-1zM1228 690h1v2h-1zM1229 689h1v1h-1zM1230 687h1v2h-1zM1231 686h1v1h-1zM1232 684h1v2h-1zM1233 683h1v1h-1zM1234 681h1v1h-1zM1234 681h1v2h-1zM1235 680h1v1h-1zM1236 679h2v1h-2zM1238 678h1v1h-1zM1239 677h1v1h-1zM1240 678h1v2h-1zM1241 680h1v1h-1zM1242 681h1v2h-1zM1243 683h1v2h-1zM1244 685h1v1h-1zM1244 685h1v2h-1zM1245 687h1v2h-1zM1246 689h1v2h-1zM1247 691h1v3h-1zM1248 694h1v2h-1zM1249 696h1v2h-1zM1250 693h1v3h-1zM1251 691h1v2h-1zM1252 688h1v3h-1zM1253 686h1v2h-1zM1254 683h1v2h-1zM1254 684h1v2h-1zM1255 681h1v2h-1zM1256 679h1v2h-1zM1257 677h1v2h-1zM1258 675h1v2h-1zM1259 674h1v1h-1zM1259 674h1v2h-1zM1260 676h1v5h-1zM1261 681h1v4h-1zM1262 685h1v4h-1zM1263 689h1v5h-1zM1264 694h1v2h-1zM1264 695h1v9h-1zM1265 704h1v18h-1zM1266 722h1v17h-1zM1267 739h1v17h-1zM1268 756h1v9h-1zM1268 764h1v6h-1zM1269 770h1v12h-1zM1270 782h1v11h-1zM1271 793h1v12h-1zM1272 805h1v11h-1zM1273 812h1v11h-1zM1273 816h1v7h-1zM1274 792h1v20h-1zM1275 772h1v20h-1zM1276 752h1v20h-1zM1277 731h1v21h-1zM1278 719h1v3h-1zM1278 721h1v10h-1zM1279 716h1v3h-1zM1280 712h1v4h-1zM1281 708h1v4h-1zM1282 704h1v4h-1zM1283 702h1v1h-1zM1283 702h1v2h-1zM1284 701h3v1h-3zM1287 700h2v1h-2zM1288 700h1v1h-1zM1289 699h1v1h-1zM1290 698h1v1h-1zM1291 697h1v1h-1zM1292 696h1v1h-1zM1293 695h1v1h-1zM1294 694h1v1h-1zM1295 693h1v1h-1zM1296 691h1v2h-1zM1297 690h1v1h-1zM1298 689h1v1h-1zM1298 689h1v4h-1zM1299 693h1v6h-1zM1300 699h1v6h-1zM1301 705h1v7h-1zM1302 712h1v6h-1zM1303 718h1v4h-1zM1303 719h1v3h-1zM1304 714h1v5h-1zM1305 708h1v6h-1zM1306 703h1v5h-1zM1307 698h1v5h-1zM1308 695h1v3h-1zM1308 695h1v5h-1zM1309 700h1v10h-1zM1310 710h1v9h-1zM1311 719h1v10h-1zM1312 729h1v9h-1zM1313 738h1v5h-1zM1313 740h1v3h-1zM1314 734h1v6h-1zM1315 728h1v6h-1zM1316 722h1v6h-1zM1317 717h1v5h-1zM1318 712h1v2h-1zM1318 713h1v4h-1zM1319 709h1v3h-1zM1320 706h1v3h-1zM1321 703h1v3h-1zM1322 701h1v2h-1zM1322 701h1v3h-1zM1323 704h1v4h-1zM1324 708h1v4h-1zM1325 712h1v4h-1zM1326 716h1v4h-1zM1327 720h1v3h-1zM1327 722h1v3h-1zM1328 725h1v3h-1zM1329 728h1v4h-1zM1330 732h1v4h-1zM1331 736h1v4h-1zM1332 740h1v2h-1zM1332 741h1v1h-1zM1333 740h2v1h-2zM1335 739h1v1h-1zM1336 738h1v1h-1zM1337 737h1v1h-1zM1337 737h1v5h-1zM1338 742h1v10h-1zM1339 752h1v9h-1zM1340 761h1v9h-1zM1341 770h1v9h-1zM1342 779h1v5h-1zM1342 783h1v2h-1zM1343 785h1v3h-1zM1344 788h1v3h-1zM1345 791h1v3h-1zM1346 794h1v2h-1zM1347 796h1v2h-1zM1347 797h1v4h-1zM1348 801h1v7h-1zM1349 808h1v6h-1zM1350 814h1v7h-1zM1351 821h1v7h-1zM1352 828h1v3h-1zM1352 830h1v4h-1zM1353 834h1v5h-1zM1354 839h1v6h-1zM1355 845h1v6h-1zM1356 851h1v5h-1zM1357 853h1v7h-1zM1357 856h1v4h-1zM1358 840h1v13h-1zM1359 828h1v12h-1zM1360 815h1v13h-1zM1361 803h1v12h-1zM1362 794h1v3h-1zM1362 796h1v7h-1zM1363 790h1v4h-1zM1364 786h1v4h-1zM1365 781h1v5h-1zM1366 777h1v4h-1zM1367 771h1v4h-1zM1367 774h1v3h-1zM1368 764h1v7h-1zM1369 756h1v8h-1zM1370 749h1v7h-1zM1371 742h1v7h-1zM1372 737h1v1h-1zM1372 737h1v5h-1zM1373 736h1v1h-1zM1374 735h1v1h-1zM1375 733h1v2h-1zM1376 732h1v1h-1zM1376 732h1v10h-1zM1377 742h1v18h-1zM1378 760h1v18h-1zM1379 778h1v18h-1zM1380 796h1v18h-1zM1381 814h1v10h-1zM1381 823h1v1h-1zM1382 824h1v1h-1zM1383 825h1v1h-1zM1384 826h1v1h-1zM1385 827h2v1h-2zM1386 822h1v6h-1zM1387 809h1v13h-1zM1388 796h1v13h-1zM1389 784h1v12h-1zM1390 771h1v13h-1zM1391 763h1v2h-1zM1391 764h1v7h-1zM1392 759h1v4h-1zM1393 754h1v5h-1zM1394 750h1v4h-1zM1395 746h1v4h-1zM1396 744h1v2h-1zM1396 744h1v3h-1zM1397 747h1v6h-1zM1398 753h1v6h-1zM1399 759h1v6h-1zM1400 765h1v6h-1zM1401 767h1v8h-1zM1401 771h1v4h-1zM1402 752h1v15h-1zM1403 737h1v15h-1zM1404 722h1v15h-1zM1405 714h1v6h-1zM1405 714h1v8h-1zM1406 720h1v9h-1zM1407 729h1v10h-1zM1408 739h1v9h-1zM1409 748h1v9h-1zM1410 757h1v6h-1zM1410 762h1v4h-1zM1411 766h1v8h-1zM1412 774h1v7h-1zM1413 781h1v8h-1zM1414 789h1v8h-1zM1415 797h1v4h-1zM1415 800h1v2h-1zM1416 802h1v4h-1zM1417 806h1v4h-1zM1418 810h1v4h-1zM1419 814h1v4h-1zM1420 818h1v2h-1zM1420 819h1v1h-1zM1421 818h1v1h-1zM1422 816h1v2h-1zM1423 815h1v1h-1zM1424 814h1v1h-1zM1425 813h1v1h-1zM1426 812h1v1h-1zM1427 811h1v1h-1zM1428 810h1v1h-1zM1429 809h1v1h-1zM1430 799h1v10h-1zM1430 808h1v1h-1zM1431 780h1v19h-1zM1432 761h1v19h-1zM1433 742h1v19h-1zM1434 723h1v19h-1zM1435 713h1v10h-1zM1435 713h2v1h-2zM1437 712h4v1h-4zM1440 712h1v6h-1zM1441 718h1v11h-1zM1442 729h1v11h-1zM1443 740h1v11h-1zM1444 751h1v11h-1zM1445 762h1v6h-1zM1445 767h1v5h-1zM1446 772h1v10h-1zM1447 782h1v10h-1zM1448 792h1v10h-1zM1449 802h1v9h-1zM1450 807h1v10h-1zM1450 811h1v6h-1zM1451 790h1v17h-1zM1452 772h1v18h-1zM1453 754h1v18h-1zM1454 737h1v17h-1zM1455 727h1v6h-1zM1455 727h1v10h-1zM1456 733h1v10h-1zM1457 743h1v11h-1zM1458 754h1v11h-1zM1459 765h1v5h-1zM1459 769h1v4h-1zM1460 773h1v5h-1zM1461 778h1v6h-1zM1462 784h1v5h-1zM1463 789h1v6h-1zM1464 795h1v3h-1zM1464 797h1v1h-1zM1465 798h1v1h-1zM1466 799h1v1h-1zM1467 800h1v1h-1zM1468 801h1v1h-1zM1469 802h1v1h-1zM1469 802h6v1h-6zM1474 796h1v7h-1zM1475 783h1v13h-1zM1476 771h1v12h-1zM1477 758h1v13h-1zM1478 745h1v13h-1zM1479 734h1v6h-1zM1479 739h1v6h-1zM1480 724h1v10h-1zM1481 714h1v10h-1zM1482 704h1v10h-1zM1483 694h1v10h-1zM1484 688h1v2h-1zM1484 689h1v5h-1zM1485 687h1v1h-1zM1486 685h1v2h-1zM1487 683h1v2h-1zM1488 681h1v2h-1zM1489 679h1v2h-1zM1489 679h1v6h-1zM1490 685h1v9h-1zM1491 694h1v9h-1zM1492 703h1v9h-1zM1493 712h1v9h-1zM1494 721h1v5h-1zM1494 725h1v1h-1zM1495 724h1v1h-1zM1496 723h1v1h-1zM1497 722h2v1h-2zM1499 721h1v1h-1zM1499 721h1v3h-1zM1500 724h1v5h-1zM1501 729h1v5h-1zM1502 734h1v5h-1zM1503 739h1v5h-1zM1504 744h1v3h-1zM1504 746h1v6h-1zM1505 752h1v12h-1zM1506 764h1v11h-1zM1507 775h1v11h-1zM1508 786h1v11h-1zM1509 797h1v6h-1zM1510 785h1v12h-1zM1511 773h1v12h-1zM1512 761h1v12h-1zM1513 749h1v12h-1zM1514 739h1v4h-1zM1514 742h1v7h-1zM1515 732h1v7h-1zM1516 725h1v7h-1zM1517 718h1v7h-1zM1518 714h1v2h-1zM1518 714h1v4h-1zM1519 716h1v3h-1zM1520 719h1v4h-1zM1521 723h1v3h-1zM1522 726h1v4h-1zM1523 730h1v2h-1zM1523 731h1v8h-1zM1524 739h1v14h-1zM1525 753h1v15h-1zM1526 768h1v14h-1zM1527 782h1v15h-1zM1528 797h1v8h-1zM1528 804h1v1h-1zM1529 805h1v3h-1zM1530 808h1v2h-1zM1531 810h1v2h-1zM1532 812h1v3h-1zM1533 815h1v1h-1zM1533 815h1v2h-1zM1534 817h1v1h-1zM1535 818h1v2h-1zM1536 820h1v2h-1zM1537 822h1v2h-1zM1538 824h1v1h-1zM1539 822h1v2h-1zM1540 820h1v2h-1zM1541 817h1v3h-1zM1542 815h1v2h-1zM1543 814h1v1h-1zM1543 814h1v2h-1zM1544 816h1v3h-1zM1545 819h1v4h-1zM1546 823h1v3h-1zM1547 826h1v3h-1zM1548 829h1v2h-1zM1548 830h1v2h-1zM1549 832h1v3h-1zM1550 835h1v3h-1zM1551 838h1v3h-1zM1552 841h1v3h-1zM1553 835h1v11h-1zM1553 844h1v2h-1zM1554 816h1v19h-1zM1555 796h1v20h-1zM1556 776h1v20h-1zM1557 757h1v19h-1zM1558 744h1v3h-1zM1558 746h1v11h-1zM1559 738h1v6h-1zM1560 732h1v6h-1zM1561 726h1v6h-1zM1562 720h1v6h-1zM1563 717h1v3h-1zM1563 717h1v9h-1zM1564 726h1v18h-1zM1565 744h1v17h-1zM1566 761h1v18h-1zM1567 779h1v18h-1zM1568 797h1v9h-1zM1568 805h1v4h-1zM1569 809h1v6h-1zM1570 815h1v7h-1zM1571 822h1v6h-1zM1572 828h1v7h-1zM1573 829h1v10h-1zM1573 835h1v4h-1zM1574 812h1v17h-1zM1575 794h1v18h-1zM1576 776h1v18h-1zM1577 766h1v2h-1zM1577 767h1v9h-1zM1578 764h1v2h-1zM1579 762h1v2h-1zM1580 760h1v2h-1zM1581 757h1v3h-1zM1582 756h1v1h-1zM1583 757h1v3h-1zM1584 760h1v2h-1zM1585 762h1v2h-1zM1586 764h1v2h-1zM1587 765h1v3h-1zM1587 766h1v2h-1zM1588 760h1v5h-1zM1589 754h1v6h-1zM1590 749h1v5h-1zM1591 744h1v5h-1zM1592 741h1v3h-1zM1592 741h1v6h-1zM1593 747h1v10h-1zM1594 757h1v11h-1zM1595 768h1v10h-1zM1596 778h1v11h-1zM1597 789h1v6h-1zM1597 791h1v4h-1zM1598 785h1v6h-1zM1599 779h1v6h-1zM1600 773h1v6h-1zM1601 768h1v5h-1zM1602 764h1v3h-1zM1602 764h1v4h-1zM1603 767h1v5h-1zM1604 772h1v4h-1zM1605 776h1v5h-1zM1606 781h1v4h-1zM1607 785h1v3h-1zM1608 779h1v6h-1zM1609 774h1v5h-1zM1610 768h1v6h-1zM1611 762h1v6h-1zM1612 759h1v1h-1zM1612 759h1v3h-1zM1613 758h1v1h-1zM1614 756h1v2h-1zM1615 755h1v1h-1zM1616 754h1v1h-1zM1617 753h1v1h-1zM1617 753h1v6h-1zM1618 759h1v13h-1zM1619 772h1v12h-1zM1620 784h1v13h-1zM1621 797h1v12h-1zM1622 809h1v7h-1zM1622 815h1v3h-1zM1623 818h1v4h-1zM1624 822h1v5h-1zM1625 827h1v4h-1zM1626 831h1v4h-1zM1627 835h1v3h-1zM1627 837h1v1h-1zM1628 838h1v2h-1zM1629 840h1v1h-1zM1630 841h1v1h-1zM1631 842h1v2h-1zM1632 832h1v13h-1zM1632 844h1v1h-1zM1633 808h1v24h-1zM1634 784h1v24h-1zM1635 759h1v25h-1zM1636 747h1v1h-1zM1636 747h1v12h-1zM1637 748h1v3h-1zM1638 751h1v2h-1zM1639 753h1v2h-1zM1640 755h1v2h-1zM1641 757h1v2h-1zM1641 758h1v3h-1zM1642 761h1v6h-1zM1643 767h1v6h-1zM1644 773h1v6h-1zM1645 779h1v6h-1zM1646 785h1v3h-1zM1646 787h1v3h-1zM1647 790h1v6h-1zM1648 796h1v5h-1zM1649 801h1v5h-1zM1650 806h1v6h-1zM1651 807h1v8h-1zM1651 812h1v3h-1zM1652 791h1v16h-1zM1653 775h1v16h-1zM1654 759h1v16h-1zM1655 743h1v16h-1zM1656 735h1v7h-1zM1656 735h1v8h-1zM1657 742h1v13h-1zM1658 755h1v13h-1zM1659 768h1v13h-1zM1660 781h1v7h-1zM1660 787h1v4h-1zM1661 791h1v5h-1zM1662 796h1v6h-1zM1663 802h1v6h-1zM1664 808h1v6h-1zM1665 814h1v3h-1zM1665 815h1v2h-1zM1666 812h1v3h-1zM1667 809h1v3h-1zM1668 806h1v3h-1zM1669 803h1v3h-1zM1670 800h1v3h-1zM1670 800h1v4h-1zM1671 804h1v5h-1zM1672 809h1v6h-1zM1673 815h1v5h-1zM1674 820h1v6h-1zM1675 826h1v3h-1zM1675 828h1v3h-1zM1676 831h1v4h-1zM1677 835h1v5h-1zM1678 840h1v5h-1zM1679 845h1v5h-1zM1680 850h1v2h-1zM1680 851h1v1h-1zM1681 852h3v1h-3zM1684 853h2v1h-2zM1685 853h1v1h-1zM1686 854h1v2h-1zM1687 856h1v1h-1zM1688 857h1v2h-1zM1689 859h1v1h-1zM1690 857h1v5h-1zM1690 860h1v2h-1zM1691 848h1v9h-1zM1692 839h1v9h-1zM1693 830h1v9h-1zM1694 821h1v9h-1zM1695 816h1v2h-1zM1695 816h1v5h-1zM1696 818h1v2h-1zM1697 820h1v3h-1zM1698 823h1v2h-1zM1699 825h1v2h-1zM1700 822h1v7h-1zM1700 827h1v2h-1zM1701 808h1v14h-1zM1702 794h1v14h-1zM1703 780h1v14h-1zM1704 773h1v1h-1zM1704 773h1v7h-1zM1705 771h1v2h-1zM1706 769h1v2h-1zM1707 766h1v3h-1zM1708 764h1v2h-1zM1709 763h1v1h-1zM1709 763h1v3h-1zM1710 766h1v5h-1zM1711 771h1v5h-1zM1712 776h1v4h-1zM1713 780h1v5h-1zM1714 785h1v3h-1zM1714 787h1v3h-1zM1715 790h1v6h-1zM1716 796h1v6h-1zM1717 802h1v5h-1zM1718 807h1v6h-1zM1719 813h1v3h-1zM1719 815h1v3h-1zM1720 818h1v5h-1zM1721 823h1v5h-1zM1722 828h1v6h-1zM1723 834h1v5h-1zM1724 839h1v3h-1zM1724 841h1v2h-1zM1725 843h1v4h-1zM1726 847h1v3h-1zM1727 850h1v4h-1zM1728 854h1v3h-1zM1729 857h1v3h-1zM1729 859h2v1h-2zM1731 860h2v1h-2zM1733 861h1v1h-1zM1734 853h1v10h-1zM1734 862h1v1h-1zM1735 834h1v19h-1zM1736 816h1v18h-1zM1737 797h1v19h-1zM1738 779h1v18h-1zM1739 763h1v7h-1zM1739 769h1v10h-1zM1740 749h1v14h-1zM1741 735h1v14h-1zM1742 721h1v14h-1zM1743 707h1v14h-1zM1744 699h1v8h-1zM1744 699h2v1h-2zM1746 698h3v1h-3zM1749 697h1v1h-1zM1749 697h1v2h-1zM1750 699h1v4h-1zM1751 703h1v3h-1zM1752 706h1v3h-1zM1753 709h1v4h-1zM1754 713h1v2h-1zM1754 714h1v4h-1zM1755 718h1v9h-1zM1756 727h1v9h-1zM1757 736h1v8h-1zM1758 744h1v9h-1zM1759 753h1v5h-1zM1759 757h1v6h-1zM1760 763h1v12h-1zM1761 775h1v12h-1zM1762 787h1v12h-1zM1763 799h1v7h-1zM1764 787h1v12h-1zM1765 775h1v12h-1zM1766 763h1v12h-1zM1767 751h1v12h-1zM1768 744h1v1h-1zM1768 744h1v7h-1zM1769 743h2v1h-2zM1771 742h1v1h-1zM1772 741h1v1h-1zM1773 740h1v1h-1zM1773 740h1v8h-1zM1774 748h1v17h-1zM1775 765h1v16h-1zM1776 781h1v16h-1zM1777 797h1v16h-1zM1778 813h1v8h-1zM1778 820h1v2h-1zM1779 822h1v4h-1zM1780 826h1v3h-1zM1781 829h1v3h-1zM1782 832h1v4h-1zM1783 835h1v3h-1zM1783 836h1v2h-1zM1784 830h1v5h-1zM1785 826h1v4h-1zM1786 821h1v5h-1zM1787 816h1v5h-1zM1788 813h1v3h-1zM1789 816h1v5h-1zM1790 821h1v5h-1zM1791 826h1v4h-1zM1792 830h1v5h-1zM1793 829h1v9h-1zM1793 835h1v3h-1zM1794 814h1v15h-1zM1795 798h1v16h-1zM1796 782h1v16h-1zM1797 766h1v16h-1zM1798 758h1v8h-1z" fill="#ff0000" stroke="none" shape-rendering="crispEdges"/>
<path d="M35.5 0V880M1855.5 0V880M35 653.5H1856M35 880.5H1856M36 891.5H1856M33 649.5H35M1856 649.5H1858M33 646.5H35M1856 646.5H1858M33 642.5H35M1856 642.5H1858M30 639.5H35M1856 639.5H1861M33 635.5H35M1856 635.5H1858M33 631.5H35M1856 631.5H1858M33 628.5H35M1856 628.5H1858M33 624.5H35M1856 624.5H1858M30 621.5H35M1856 621.5H1861M33 617.5H35M1856 617.5H1858M33 613.5H35M1856 613.5H1858M33 610.5H35M1856 610.5H1858M33 606.5H35M1856 606.5H1858M30 603.5H35M1856 603.5H1861M33 599.5H35M1856 599.5H1858M33 595.5H35M1856 595.5H1858M33 592.5H35M1856 592.5H1858M33 588.5H35M1856 588.5H1858M30 585.5H35M1856 585.5H1861M33 581.5H35M1856 581.5H1858M33 577.5H35M1856 577.5H1858M33 574.5H35M1856 574.5H1858M33 570.5H35M1856 570.5H1858M30 567.5H35M1856 567.5H1861M33 563.5H35M1856 563.5H1858M33 559.5H35M1856 559.5H1858M33 556.5H35M1856 556.5H1858M33 552.5H35M1856 552.5H1858M30 549.5H35M1856 549.5H1861M33 545.5H35M1856 545.5H1858M33 541.5H35M1856 541.5H1858M33 538.5H35M1856 538.5H1858M33 534.5H35M1856 534.5H1858M30 531.5H35M1856 531.5H1861M33 527.5H35M1856 527.5H1858M33 523.5H35M1856 523.5H1858M33 520.5H35M1856 520.5H1858M33 516.5H35M1856 516.5H1858M30 513.5H35M1856 513.5H1861M33 509.5H35M1856 509.5H1858M33 505.5H35M1856 505.5H1858M33 502.5H35M1856 502.5H1858M33 498.5H35M1856 498.5H1858M30 495.5H35M1856 495.5H1861M33 491.5H35M1856 491.5H1858M33 487.5H35M1856 487.5H1858M33 484.5H35M1856 484.5H1858M33 480.5H35M1856 480.5H1858M30 477.5H35M1856 477.5H1861M33 473.5H35M1856 473.5H1858M33 469.5H35M1856 469.5H1858M33 466.5H35M1856 466.5H1858M33 462.5H35M1856 462.5H1858M30 459.5H35M1856 459.5H1861M33 455.5H35M1856 455.5H1858M33 451.5H35M1856 451.5H1858M33 448.5H35M1856 448.5H1858M33 444.5H35M1856 444.5H1858M30 441.5H35M1856 441.5H1861M33 437.5H35M1856 437.5H1858M33 433.5H35M1856 433.5H1858M33 430.5H35M1856 430.5H1858M33 426.5H35M1856 426.5H1858M30 423.5H35M1856 423.5H1861M33 419.5H35M1856 419.5H1858M33 415.5H35M1856 415.5H1858M33 412.5H35M1856 412.5H1858M33 408.5H35M1856 408.5H1858M30 405.5H35M1856 405.5H1861M33 401.5H35M1856 401.5H1858M33 397.5H35M1856 397.5H1858M33 394.5H35M1856 394.5H1858M33 390.5H35M1856 390.5H1858M30 387.5H35M1856 387.5H1861M33 383.5H35M1856 383.5H1858M33 379.5H35M1856 379.5H1858M33 376.5H35M1856 376.5H1858M33 372.5H35M1856 372.5H1858M30 369.5H35M1856 369.5H1861M33 365.5H35M1856 365.5H1858M33 361.5H35M1856 361.5H1858M33 358.5H35M1856 358.5H1858M33 354.5H35M1856 354.5H1858M30 351.5H35M1856 351.5H1861M33 347.5H35M1856 347.5H1858M33 343.5H35M1856 343.5H1858M33 340.5H35M1856 340.5H1858M33 336.5H35M1856 336.5H1858M30 333.5H35M1856 333.5H1861M33 329.5H35M1856 329.5H1858M33 325.5H35M1856 325.5H1858M33 322.5H35M1856 322.5H1858M33 318.5H35M1856 318.5H1858M30 315.5H35M1856 315.5H1861M33 311.5H35M1856 311.5H1858M33 307.5H35M1856 307.5H1858M33 304.5H35M1856 304.5H1858M33 300.5H35M1856 300.5H1858M30 297.5H35M1856 297.5H1861M33 293.5H35M1856 293.5H1858M33 289.5H35M1856 289.5H1858M33 286.5H35M1856 286.5H1858M33 282.5H35M1856 282.5H1858M30 279.5H35M1856 279.5H1861M33 275.5H35M1856 275.5H1858M33 271.5H35M1856 271.5H1858M33 268.5H35M1856 268.5H1858M33 264.5H35M1856 264.5H1858M30 261.5H35M1856 261.5H1861M33 257.5H35M1856 257.5H1858M33 253.5H35M1856 253.5H1858M33 250.5H35M1856 250.5H1858M33 246.5H35M1856 246.5H1858M30 243.5H35M1856 243.5H1861M33 239.5H35M1856 239.5H1858M33 235.5H35M1856 235.5H1858M33 232.5H35M1856 232.5H1858M33 228.5H35M1856 228.5H1858M30 225.5H35M1856 225.5H1861M33 221.5H35M1856 221.5H1858M33 217.5H35M1856 217.5H1858M33 214.5H35M1856 214.5H1858M33 210.5H35M1856 210.5H1858M30 207.5H35M1856 207.5H1861M33 203.5H35M1856 203.5H1858M33 199.5H35M1856 199.5H1858M33 196.5H35M1856 196.5H1858M33 192.5H35M1856 192.5H1858M30 189.5H35M1856 189.5H1861M33 185.5H35M1856 185.5H1858M33 181.5H35M1856 181.5H1858M33 178.5H35M1856 178.5H1858M33 174.5H35M1856 174.5H1858M30 171.5H35M1856 171.5H1861M33 167.5H35M1856 167.5H1858M33 163.5H35M1856 163.5H1858M33 160.5H35M1856 160.5H1858M33 156.5H35M1856 156.5H1858M30 153.5H35M1856 153.5H1861M33 149.5H35M1856 149.5H1858M33 145.5H35M1856 145.5H1858M33 142.5H35M1856 142.5H1858M33 138.5H35M1856 138.5H1858M30 135.5H35M1856 135.5H1861M33 131.5H35M1856 131.5H1858M33 127.5H35M1856 127.5H1858M33 124.5H35M1856 124.5H1858M33 120.5H35M1856 120.5H1858M30 117.5H35M1856 117.5H1861M33 113.5H35M1856 113.5H1858M33 109.5H35M1856 109.5H1858M33 106.5H35M1856 106.5H1858M33 102.5H35M1856 102.5H1858M30 99.5H35M1856 99.5H1861M33 95.5H35M1856 95.5H1858M33 91.5H35M1856 91.5H1858M33 88.5H35M1856 88.5H1858M33 84.5H35M1856 84.5H1858M30 81.5H35M1856 81.5H1861M33 77.5H35M1856 77.5H1858M33 73.5H35M1856 73.5H1858M33 70.5H35M1856 70.5H1858M33 66.5H35M1856 66.5H1858M30 63.5H35M1856 63.5H1861M33 59.5H35M1856 59.5H1858M33 55.5H35M1856 55.5H1858M33 52.5H35M1856 52.5H1858M33 48.5H35M1856 48.5H1858M30 45.5H35M1856 45.5H1861M33 41.5H35M1856 41.5H1858M33 37.5H35M1856 37.5H1858M33 34.5H35M1856 34.5H1858M33 30.5H35M1856 30.5H1858M30 27.5H35M1856 27.5H1861M33 23.5H35M1856 23.5H1858M33 19.5H35M1856 19.5H1858M33 16.5H35M1856 16.5H1858M33 12.5H35M1856 12.5H1858M30 9.5H35M1856 9.5H1861M33 5.5H35M1856 5.5H1858M33 1.5H35M1856 1.5H1858M33 878.5H35M30 876.5H35M33 874.5H35M33 872.5H35M33 869.5H35M33 867.5H35M30 865.5H35M33 863.5H35M33 861.5H35M33 859.5H35M33 857.5H35M30 855.5H35M33 853.5H35M33 851.5H35M33 849.5H35M33 847.5H35M30 845.5H35M33 843.5H35M33 841.5H35M33 838.5H35M33 836.5H35M30 834.5H35M33 832.5H35M33 830.5H35M33 828.5H35M33 826.5H35M30 824.5H35M33 822.5H35M33 820.5H35M33 818.5H35M33 816.5H35M30 814.5H35M33 812.5H35M33 810.5H35M33 808.5H35M33 805.5H35M30 803.5H35M33 801.5H35M33 799.5H35M33 797.5H35M33 795.5H35M30 793.5H35M33 791.5H35M33 789.5H35M33 787.5H35M33 785.5H35M30 783.5H35M33 781.5H35M33 779.5H35M33 777.5H35M33 775.5H35M30 772.5H35M33 770.5H35M33 768.5H35M33 766.5H35M33 764.5H35M30 762.5H35M33 760.5H35M33 758.5H35M33 756.5H35M33 754.5H35M30 752.5H35M33 750.5H35M33 748.5H35M33 746.5H35M33 744.5H35M30 742.5H35M33 739.5H35M33 737.5H35M33 735.5H35M33 733.5H35M30 731.5H35M33 729.5H35M33 727.5H35M33 725.5H35M33 723.5H35M30 721.5H35M33 719.5H35M33 717.5H35M33 715.5H35M33 713.5H35M30 711.5H35M33 709.5H35M33 706.5H35M33 704.5H35M33 702.5H35M30 700.5H35M33 698.5H35M33 696.5H35M33 694.5H35M33 692.5H35M30 690.5H35M33 688.5H35M33 686.5H35M33 684.5H35M33 682.5H35M30 680.5H35M33 678.5H35M33 676.5H35M33 673.5H35M33 671.5H35M30 669.5H35M33 667.5H35M33 665.5H35M33 663.5H35M33 661.5H35M30 659.5H35M33 657.5H35M33 655.5H35M1856 878.5H1858M1856 876.5H1858M1856 874.5H1858M1856 872.5H1858M1856 870.5H1861M1856 868.5H1858M1856 866.5H1858M1856 864.5H1858M1856 862.5H1858M1856 860.5H1861M1856 857.5H1858M1856 855.5H1858M1856 853.5H1858M1856 851.5H1858M1856 849.5H1861M1856 847.5H1858M1856 845.5H1858M1856 843.5H1858M1856 841.5H1858M1856 839.5H1861M1856 837.5H1858M1856 834.5H1858M1856 832.5H1858M1856 830.5H1858M1856 828.5H1861M1856 826.5H1858M1856 824.5H1858M1856 822.5H1858M1856 820.5H1858M1856 818.5H1861M1856 816.5H1858M1856 814.5H1858M1856 812.5H1858M1856 809.5H1858M1856 807.5H1861M1856 805.5H1858M1856 803.5H1858M1856 801.5H1858M1856 799.5H1858M1856 797.5H1861M1856 795.5H1858M1856 793.5H1858M1856 791.5H1858M1856 789.5H1858M1856 786.5H1861M1856 784.5H1858M1856 782.5H1858M1856 780.5H1858M1856 778.5H1858M1856 776.5H1861M1856 774.5H1858M1856 772.5H1858M1856 770.5H1858M1856 768.5H1858M1856 766.5H1861M1856 764.5H1858M1856 761.5H1858M1856 759.5H1858M1856 757.5H1858M1856 755.5H1861M1856 753.5H1858M1856 751.5H1858M1856 749.5H1858M1856 747.5H1858M1856 745.5H1861M1856 743.5H1858M1856 741.5H1858M1856 738.5H1858M1856 736.5H1858M1856 734.5H1861M1856 732.5H1858M1856 730.5H1858M1856 728.5H1858M1856 726.5H1858M1856 724.5H1861M1856 722.5H1858M1856 720.5H1858M1856 718.5H1858M1856 716.5H1858M1856 713.5H1861M1856 711.5H1858M1856 709.5H1858M1856 707.5H1858M1856 705.5H1858M1856 703.5H1861M1856 701.5H1858M1856 699.5H1858M1856 697.5H1858M1856 695.5H1858M1856 693.5H1861M1856 690.5H1858M1856 688.5H1858M1856 686.5H1858M1856 684.5H1858M1856 682.5H1861M1856 680.5H1858M1856 678.5H1858M1856 676.5H1858M1856 674.5H1858M1856 672.5H1861M1856 670.5H1858M1856 668.5H1858M1856 665.5H1858M1856 663.5H1858M1856 661.5H1861M1856 659.5H1858M1856 657.5H1858M1856 655.5H1858M58.5 880V891M81.5 880V891M106.5 880V891M131.5 880V891M155.5 880V891M180.5 880V891M204.5 880V891M229.5 880V891M254.5 880V891M278.5 880V891M303.5 880V891M327.5 880V891M351.5 880V891M376.5 880V891M395.5 880V891M420.5 880V891M445.5 880V891M469.5 880V891M494.5 880V891M513.5 880V891M538.5 880V891M563.5 880V891M587.5 880V891M611.5 880V891M636.5 880V891M660.5 880V891M685.5 880V891M709.5 880V891M734.5 880V891M758.5 880V891M783.5 880V891M808.5 880V891M832.5 880V891M842.5 880V891M857.5 880V891M881.5 880V891M905.5 880V891M930.5 880V891M954.5 880V891M979.5 880V891M1004.5 880V891M1028.5 880V891M1053.5 880V891M1077.5 880V891M1102.5 880V891M1126.5 880V891M1150.5 880V891M1175.5 880V891M1200.5 880V891M1219.5 880V891M1239.5 880V891M1259.5 880V891M1283.5 880V891M1308.5 880V891M1332.5 880V891M1357.5 880V891M1381.5 880V891M1405.5 880V891M1430.5 880V891M1455.5 880V891M1479.5 880V891M1504.5 880V891M1528.5 880V891M1553.5 880V891M1577.5 880V891M1602.5 880V891M1622.5 880V891M1646.5 880V891M1670.5 880V891M1695.5 880V891M1719.5 880V891M1744.5 880V891M1768.5 880V891M1793.5 880V891M1818.5 880V891M1842.5 880V891M131.5 880V902M229.5 880V902M341.5 880V902M445.5 880V902M543.5 880V902M655.5 880V902M758.5 880V902M847.5 880V902M954.5 880V902M1053.5 880V902M1155.5 880V902M1254.5 880V902M1357.5 880V902M1459.5 880V902M1573.5 880V902M1670.5 880V902M1778.5 880V902" stroke="#000" stroke-width="1" fill="none" shape-rendering="crispEdges"/>
<g font-family="Liberation Sans, sans-serif" font-size="8.6" fill="#2a2a2a">
<text x="26.7" y="642.4" text-anchor="end">9.0</text>
<text x="1887.4" y="642.4" text-anchor="end">9.0</text>
<text x="26.7" y="624.4" text-anchor="end">9.5</text>
<text x="1887.4" y="624.4" text-anchor="end">9.5</text>
<text x="26.7" y="606.4" text-anchor="end">10.0</text>
<text x="1887.4" y="606.4" text-anchor="end">10.0</text>
<text x="26.7" y="588.4" text-anchor="end">10.5</text>
<text x="1887.4" y="588.4" text-anchor="end">10.5</text>
<text x="26.7" y="570.4" text-anchor="end">11.0</text>
<text x="1887.4" y="570.4" text-anchor="end">11.0</text>
<text x="26.7" y="552.4" text-anchor="end">11.5</text>
<text x="1887.4" y="552.4" text-anchor="end">11.5</text>
<text x="26.7" y="534.4" text-anchor="end">12.0</text>
<text x="1887.4" y="534.4" text-anchor="end">12.0</text>
<text x="26.7" y="516.4" text-anchor="end">12.5</text>
<text x="1887.4" y="516.4" text-anchor="end">12.5</text>
<text x="26.7" y="498.4" text-anchor="end">13.0</text>
<text x="1887.4" y="498.4" text-anchor="end">13.0</text>
<text x="26.7" y="480.4" text-anchor="end">13.5</text>
<text x="1887.4" y="480.4" text-anchor="end">13.5</text>
<text x="26.7" y="462.4" text-anchor="end">14.0</text>
<text x="1887.4" y="462.4" text-anchor="end">14.0</text>
<text x="26.7" y="444.4" text-anchor="end">14.5</text>
<text x="1887.4" y="444.4" text-anchor="end">14.5</text>
<text x="26.7" y="426.4" text-anchor="end">15.0</text>
<text x="1887.4" y="426.4" text-anchor="end">15.0</text>
<text x="26.7" y="408.4" text-anchor="end">15.5</text>
<text x="1887.4" y="408.4" text-anchor="end">15.5</text>
<text x="26.7" y="390.4" text-anchor="end">16.0</text>
<text x="1887.4" y="390.4" text-anchor="end">16.0</text>
<text x="26.7" y="372.4" text-anchor="end">16.5</text>
<text x="1887.4" y="372.4" text-anchor="end">16.5</text>
<text x="26.7" y="354.4" text-anchor="end">17.0</text>
<text x="1887.4" y="354.4" text-anchor="end">17.0</text>
<text x="26.7" y="336.4" text-anchor="end">17.5</text>
<text x="1887.4" y="336.4" text-anchor="end">17.5</text>
<text x="26.7" y="318.4" text-anchor="end">18.0</text>
<text x="1887.4" y="318.4" text-anchor="end">18.0</text>
<text x="26.7" y="300.4" text-anchor="end">18.5</text>
<text x="1887.4" y="300.4" text-anchor="end">18.5</text>
<text x="26.7" y="282.4" text-anchor="end">19.0</text>
<text x="1887.4" y="282.4" text-anchor="end">19.0</text>
<text x="26.7" y="264.4" text-anchor="end">19.5</text>
<text x="1887.4" y="264.4" text-anchor="end">19.5</text>
<text x="26.7" y="246.4" text-anchor="end">20.0</text>
<text x="1887.4" y="246.4" text-anchor="end">20.0</text>
<text x="26.7" y="228.4" text-anchor="end">20.5</text>
<text x="1887.4" y="228.4" text-anchor="end">20.5</text>
<text x="26.7" y="210.4" text-anchor="end">21.0</text>
<text x="1887.4" y="210.4" text-anchor="end">21.0</text>
<text x="26.7" y="192.4" text-anchor="end">21.5</text>
<text x="1887.4" y="192.4" text-anchor="end">21.5</text>
<text x="26.7" y="174.4" text-anchor="end">22.0</text>
<text x="1887.4" y="174.4" text-anchor="end">22.0</text>
<text x="26.7" y="156.4" text-anchor="end">22.5</text>
<text x="1887.4" y="156.4" text-anchor="end">22.5</text>
<text x="26.7" y="138.4" text-anchor="end">23.0</text>
<text x="1887.4" y="138.4" text-anchor="end">23.0</text>
<text x="26.7" y="120.4" text-anchor="end">23.5</text>
<text x="1887.4" y="120.4" text-anchor="end">23.5</text>
<text x="26.7" y="102.4" text-anchor="end">24.0</text>
<text x="1887.4" y="102.4" text-anchor="end">24.0</text>
<text x="26.7" y="84.4" text-anchor="end">24.5</text>
<text x="1887.4" y="84.4" text-anchor="end">24.5</text>
<text x="26.7" y="66.4" text-anchor="end">25.0</text>
<text x="1887.4" y="66.4" text-anchor="end">25.0</text>
<text x="26.7" y="48.4" text-anchor="end">25.5</text>
<text x="1887.4" y="48.4" text-anchor="end">25.5</text>
<text x="26.7" y="30.4" text-anchor="end">26.0</text>
<text x="1887.4" y="30.4" text-anchor="end">26.0</text>
<text x="26.7" y="12.4" text-anchor="end">26.5</text>
<text x="1887.4" y="12.4" text-anchor="end">26.5</text>
<text x="26.7" y="869.6" text-anchor="end">5</text>
<text x="26.7" y="859.3" text-anchor="end">10</text>
<text x="26.7" y="849.0" text-anchor="end">15</text>
<text x="26.7" y="838.7" text-anchor="end">20</text>
<text x="26.7" y="828.4" text-anchor="end">25</text>
<text x="26.7" y="818.0" text-anchor="end">30</text>
<text x="26.7" y="807.7" text-anchor="end">35</text>
<text x="26.7" y="797.4" text-anchor="end">40</text>
<text x="26.7" y="787.1" text-anchor="end">45</text>
<text x="26.7" y="776.8" text-anchor="end">50</text>
<text x="26.7" y="766.5" text-anchor="end">55</text>
<text x="26.7" y="756.1" text-anchor="end">60</text>
<text x="26.7" y="745.8" text-anchor="end">65</text>
<text x="26.7" y="735.5" text-anchor="end">70</text>
<text x="26.7" y="725.2" text-anchor="end">75</text>
<text x="26.7" y="714.9" text-anchor="end">80</text>
<text x="26.7" y="704.6" text-anchor="end">85</text>
<text x="26.7" y="694.2" text-anchor="end">90</text>
<text x="26.7" y="683.9" text-anchor="end">95</text>
<text x="26.7" y="673.6" text-anchor="end">100</text>
<text x="26.7" y="663.3" text-anchor="end">105</text>
<text x="1887.4" y="874.3" text-anchor="end">500</text>
<text x="1887.4" y="863.8" text-anchor="end">1000</text>
<text x="1887.4" y="853.4" text-anchor="end">1500</text>
<text x="1887.4" y="843.0" text-anchor="end">2000</text>
<text x="1887.4" y="832.5" text-anchor="end">2500</text>
<text x="1887.4" y="822.1" text-anchor="end">3000</text>
<text x="1887.4" y="811.7" text-anchor="end">3500</text>
<text x="1887.4" y="801.2" text-anchor="end">4000</text>
<text x="1887.4" y="790.8" text-anchor="end">4500</text>
<text x="1887.4" y="780.4" text-anchor="end">5000</text>
<text x="1887.4" y="769.9" text-anchor="end">5500</text>
<text x="1887.4" y="759.5" text-anchor="end">6000</text>
<text x="1887.4" y="749.0" text-anchor="end">6500</text>
<text x="1887.4" y="738.6" text-anchor="end">7000</text>
<text x="1887.4" y="728.2" text-anchor="end">7500</text>
<text x="1887.4" y="717.7" text-anchor="end">8000</text>
<text x="1887.4" y="707.3" text-anchor="end">8500</text>
<text x="1887.4" y="696.9" text-anchor="end">9000</text>
<text x="1887.4" y="686.4" text-anchor="end">9500</text>
<text x="1887.4" y="676.0" text-anchor="end">10000</text>
<text x="1887.4" y="665.6" text-anchor="end">10500</text>
<text x="59.3" y="889.2">13</text>
<text x="82.3" y="889.2">20</text>
<text x="107.3" y="889.2">27</text>
<text x="132.3" y="889.2">3</text>
<text x="156.3" y="889.2">10</text>
<text x="181.3" y="889.2">17</text>
<text x="205.3" y="889.2">24</text>
<text x="230.3" y="889.2">1</text>
<text x="255.3" y="889.2">8</text>
<text x="279.3" y="889.2">15</text>
<text x="304.3" y="889.2">22</text>
<text x="328.3" y="889.2">29</text>
<text x="352.3" y="889.2">5</text>
<text x="377.3" y="889.2">12</text>
<text x="396.3" y="889.2">19</text>
<text x="421.3" y="889.2">26</text>
<text x="446.3" y="889.2">2</text>
<text x="470.3" y="889.2">9</text>
<text x="495.3" y="889.2">17</text>
<text x="514.3" y="889.2">23</text>
<text x="539.3" y="889.2">30</text>
<text x="564.3" y="889.2">7</text>
<text x="588.3" y="889.2">14</text>
<text x="612.3" y="889.2">21</text>
<text x="637.3" y="889.2">28</text>
<text x="661.3" y="889.2">4</text>
<text x="686.3" y="889.2">11</text>
<text x="710.3" y="889.2">18</text>
<text x="735.3" y="889.2">25</text>
<text x="759.3" y="889.2">2</text>
<text x="784.3" y="889.2">9</text>
<text x="809.3" y="889.2">16</text>
<text x="833.3" y="889.2">23</text>
<text x="858.3" y="889.2">6</text>
<text x="882.3" y="889.2">13</text>
<text x="906.3" y="889.2">20</text>
<text x="931.3" y="889.2">27</text>
<text x="955.3" y="889.2">3</text>
<text x="980.3" y="889.2">10</text>
<text x="1005.3" y="889.2">17</text>
<text x="1029.3" y="889.2">24</text>
<text x="1054.3" y="889.2">3</text>
<text x="1078.3" y="889.2">10</text>
<text x="1103.3" y="889.2">17</text>
<text x="1127.3" y="889.2">24</text>
<text x="1151.3" y="889.2">31</text>
<text x="1176.3" y="889.2">7</text>
<text x="1201.3" y="889.2">14</text>
<text x="1220.3" y="889.2">22</text>
<text x="1240.3" y="889.2">28</text>
<text x="1260.3" y="889.2">5</text>
<text x="1284.3" y="889.2">12</text>
<text x="1309.3" y="889.2">19</text>
<text x="1333.3" y="889.2">26</text>
<text x="1358.3" y="889.2">2</text>
<text x="1382.3" y="889.2">9</text>
<text x="1406.3" y="889.2">16</text>
<text x="1431.3" y="889.2">23</text>
<text x="1456.3" y="889.2">30</text>
<text x="1480.3" y="889.2">7</text>
<text x="1505.3" y="889.2">14</text>
<text x="1529.3" y="889.2">21</text>
<text x="1554.3" y="889.2">28</text>
<text x="1578.3" y="889.2">4</text>
<text x="1603.3" y="889.2">11</text>
<text x="1623.3" y="889.2">18</text>
<text x="1647.3" y="889.2">25</text>
<text x="1671.3" y="889.2">1</text>
<text x="1696.3" y="889.2">8</text>
<text x="1720.3" y="889.2">15</text>
<text x="1745.3" y="889.2">22</text>
<text x="1769.3" y="889.2">29</text>
<text x="1794.3" y="889.2">6</text>
<text x="1819.3" y="889.2">13</text>
<text x="1843.3" y="889.2">20</text>
<text x="36.5" y="900.1">y</text>
<clipPath id="cl6"><rect x="36" y="880" width="20" height="12"/></clipPath><text x="34.2" y="889.2" clip-path="url(#cl6)">6</text>
<text x="132.2" y="900.1" letter-spacing="0.15">June</text>
<text x="230.2" y="900.1" letter-spacing="0.15">July</text>
<text x="342.2" y="900.1" letter-spacing="0.15">August</text>
<text x="446.2" y="900.1" letter-spacing="0.15">September</text>
<text x="544.2" y="900.1" letter-spacing="0.15">October</text>
<text x="656.2" y="900.1" letter-spacing="0.15">November</text>
<text x="759.2" y="900.1" letter-spacing="0.15">December</text>
<text x="848.2" y="900.1" letter-spacing="0.15">2025</text>
<text x="955.2" y="900.1" letter-spacing="0.15">February</text>
<text x="1054.2" y="900.1" letter-spacing="0.15">March</text>
<text x="1156.2" y="900.1" letter-spacing="0.15">April</text>
<text x="1255.2" y="900.1" letter-spacing="0.15">May</text>
<text x="1358.2" y="900.1" letter-spacing="0.15">June</text>
<text x="1460.2" y="900.1" letter-spacing="0.15">July</text>
<text x="1574.2" y="900.1" letter-spacing="0.15">August</text>
<text x="1671.2" y="900.1" letter-spacing="0.15">September</text>
<text x="1779.2" y="900.1" letter-spacing="0.15">October</text>
</g>
<rect x="805" y="3" width="281" height="10" fill="#fff"/><text x="945.5" y="11.3" text-anchor="middle" font-family="Liberation Sans, sans-serif" font-size="8.6" fill="#383838">Lottomatica Group SpA (21.9400, 22.6000, 21.9000, 22.3800, +0.44000)</text>
<path d="M1856 872.5H1877M1876.5 872V880" stroke="#000" fill="none" shape-rendering="crispEdges"/><path d="M1857.5 873V880" stroke="#000" stroke-dasharray="1 1" fill="none" shape-rendering="crispEdges"/>
<text x="1858.3" y="878.6" font-family="Liberation Sans, sans-serif" font-size="6.3" fill="#555">x1000</text>
</svg>
<div id="note"><div><span>Lottomatica in white candle decisa con test anche dei 22,6.</span></div><div><span>Siamo sui 22,38 in reazione dalla rialzista.</span></div><div><span>Arriva il rimbalzo dopo la debolezza di ieri in mancata reazione</span></div><div><span>che aveva portato allo stop intraday chi fosse eventualmente</span></div><div><span>entrato al buio in open. Bene sopra i 22,7 nel pomeriggio</span></div><div><span>sulla conferma dai volumi con spazio in quel caso per provare</span></div><div><span>a ripartire sul serio verso i 23,3.</span></div><div><span>Io sono rimasto fuori altrimenti avrei rosicato.</span></div><div><span>Analisi corretta ma timing sbagliato di una virgola,</span></div><div><span>quanto basta per passare da un gain ad un loss.</span></div></div>
</body></html>
